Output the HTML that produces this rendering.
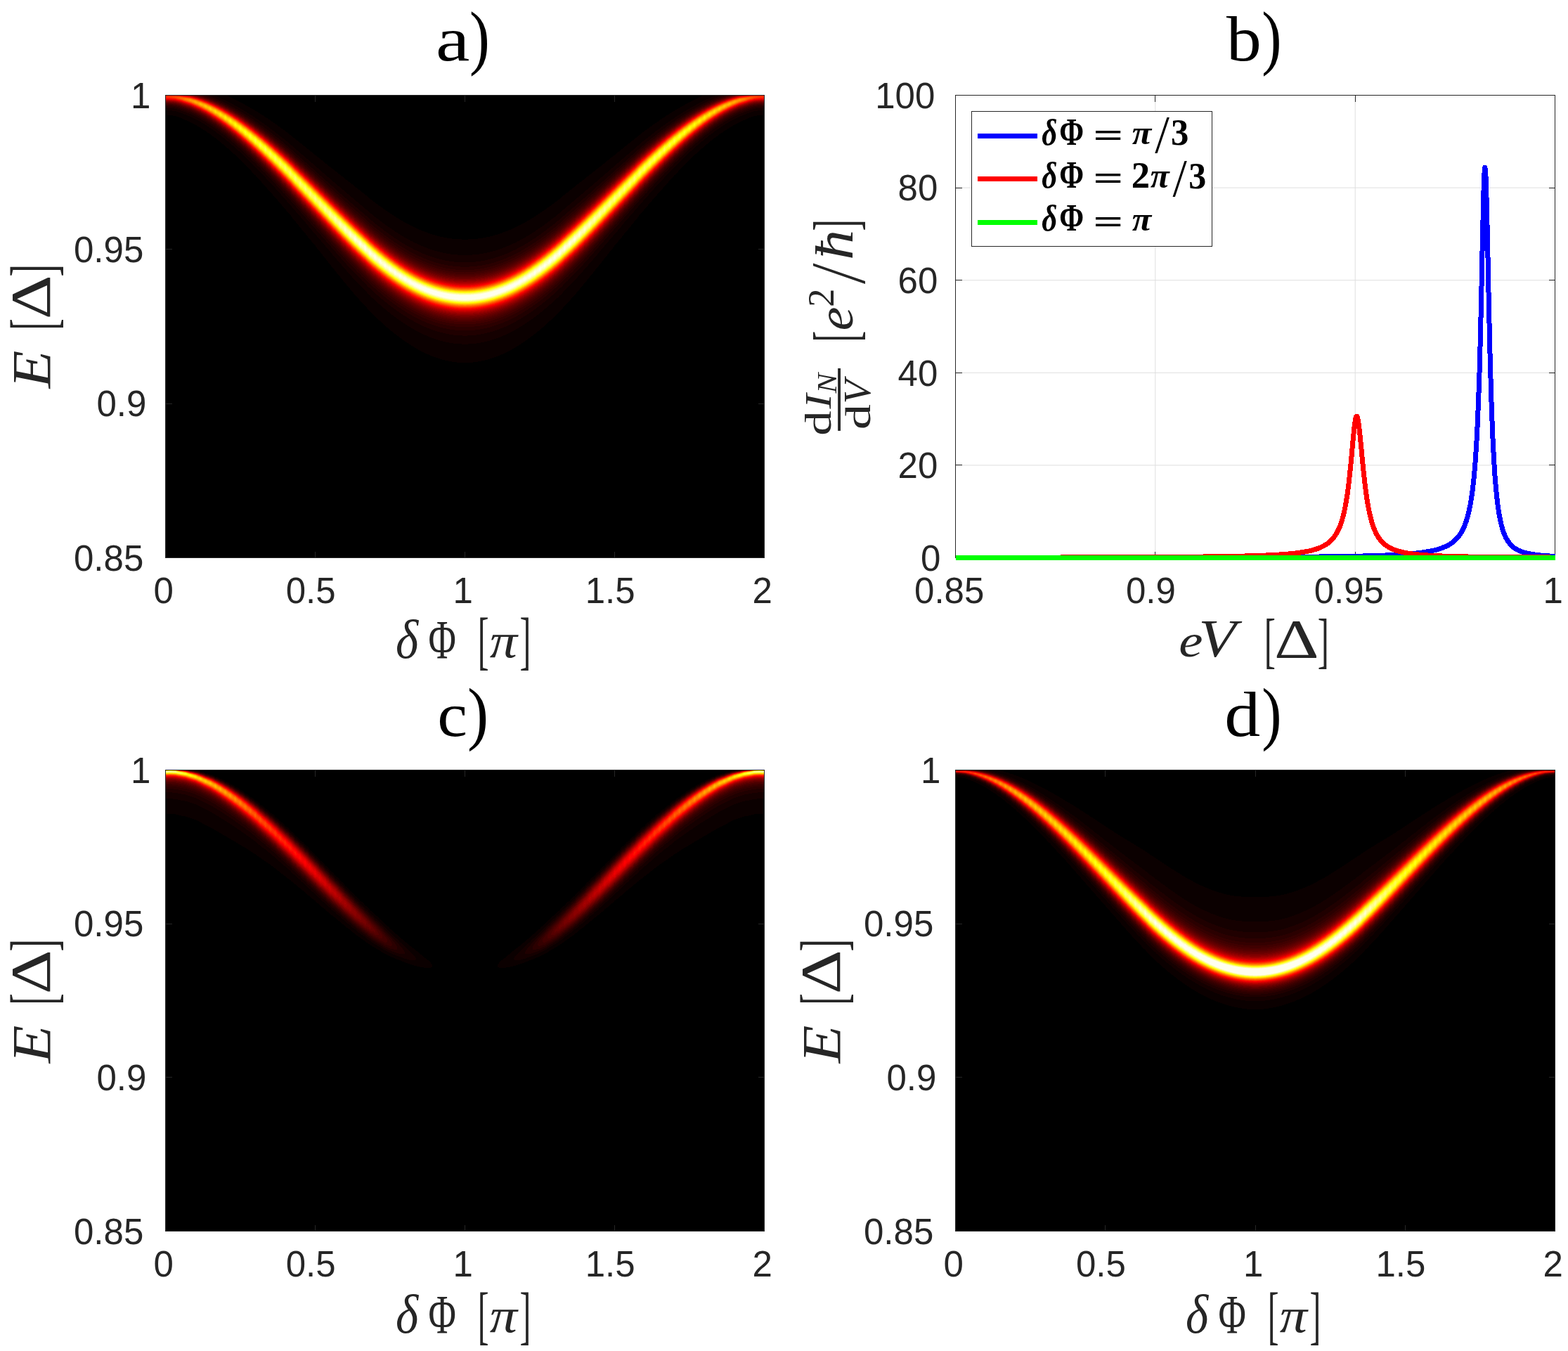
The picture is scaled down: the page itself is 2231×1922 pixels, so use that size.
<!DOCTYPE html>
<html><head><meta charset="utf-8"><title>Figure</title>
<style>html,body{margin:0;padding:0;background:#fff;overflow:hidden}
#wrap{position:relative;width:2231px;height:1922px;background:#fff}
svg{position:absolute;left:0;top:0}
text{white-space:pre}</style></head>
<body><div id="wrap">
<canvas id="cv_a" width="853" height="659" style="position:absolute;left:235px;top:135px;width:853px;height:659px"></canvas>
<canvas id="cv_c" width="853" height="657" style="position:absolute;left:235px;top:1095px;width:853px;height:657px"></canvas>
<canvas id="cv_d" width="854" height="657" style="position:absolute;left:1359px;top:1095px;width:854px;height:657px"></canvas>
<svg width="2231" height="1922" viewBox="0 0 2231 1922" xmlns="http://www.w3.org/2000/svg">
<g><line x1="1643.8" y1="135.5" x2="1643.8" y2="793.5" stroke="#dfdfdf" stroke-width="1"/><line x1="1928.2" y1="135.5" x2="1928.2" y2="793.5" stroke="#dfdfdf" stroke-width="1"/><line x1="1359.5" y1="661.9" x2="2212.5" y2="661.9" stroke="#dfdfdf" stroke-width="1"/><line x1="1359.5" y1="530.3" x2="2212.5" y2="530.3" stroke="#dfdfdf" stroke-width="1"/><line x1="1359.5" y1="398.7" x2="2212.5" y2="398.7" stroke="#dfdfdf" stroke-width="1"/><line x1="1359.5" y1="267.1" x2="2212.5" y2="267.1" stroke="#dfdfdf" stroke-width="1"/></g>
<g stroke="#262626" stroke-width="1" shape-rendering="crispEdges"><line x1="1359.5" y1="793.5" x2="1359.5" y2="784.5"/><line x1="1359.5" y1="135.5" x2="1359.5" y2="144.5"/><line x1="1643.8" y1="793.5" x2="1643.8" y2="784.5"/><line x1="1643.8" y1="135.5" x2="1643.8" y2="144.5"/><line x1="1928.2" y1="793.5" x2="1928.2" y2="784.5"/><line x1="1928.2" y1="135.5" x2="1928.2" y2="144.5"/><line x1="2212.5" y1="793.5" x2="2212.5" y2="784.5"/><line x1="2212.5" y1="135.5" x2="2212.5" y2="144.5"/><line x1="1359.5" y1="793.5" x2="1368.5" y2="793.5"/><line x1="2212.5" y1="793.5" x2="2203.5" y2="793.5"/><line x1="1359.5" y1="661.9" x2="1368.5" y2="661.9"/><line x1="2212.5" y1="661.9" x2="2203.5" y2="661.9"/><line x1="1359.5" y1="530.3" x2="1368.5" y2="530.3"/><line x1="2212.5" y1="530.3" x2="2203.5" y2="530.3"/><line x1="1359.5" y1="398.7" x2="1368.5" y2="398.7"/><line x1="2212.5" y1="398.7" x2="2203.5" y2="398.7"/><line x1="1359.5" y1="267.1" x2="1368.5" y2="267.1"/><line x1="2212.5" y1="267.1" x2="2203.5" y2="267.1"/><line x1="1359.5" y1="135.5" x2="1368.5" y2="135.5"/><line x1="2212.5" y1="135.5" x2="2203.5" y2="135.5"/><rect x="1359.5" y="135.5" width="853.0" height="658.0" fill="none"/></g>
<g><polyline points="1359.5,793.3 1360.1,793.3 1360.6,793.3 1361.2,793.3 1361.8,793.3 1362.3,793.3 1362.9,793.3 1363.5,793.3 1364.1,793.3 1364.6,793.3 1365.2,793.3 1365.8,793.3 1366.3,793.3 1366.9,793.3 1367.5,793.3 1368.0,793.3 1368.6,793.3 1369.2,793.3 1369.7,793.3 1370.3,793.3 1370.9,793.3 1371.4,793.3 1372.0,793.3 1372.6,793.3 1373.2,793.3 1373.7,793.3 1374.3,793.3 1374.9,793.3 1375.4,793.3 1376.0,793.3 1376.6,793.3 1377.1,793.3 1377.7,793.3 1378.3,793.3 1378.8,793.3 1379.4,793.3 1380.0,793.3 1380.6,793.3 1381.1,793.3 1381.7,793.3 1382.3,793.3 1382.8,793.3 1383.4,793.3 1384.0,793.3 1384.5,793.3 1385.1,793.3 1385.7,793.3 1386.2,793.3 1386.8,793.3 1387.4,793.3 1388.0,793.3 1388.5,793.3 1389.1,793.3 1389.7,793.3 1390.2,793.3 1390.8,793.3 1391.4,793.3 1391.9,793.3 1392.5,793.3 1393.1,793.3 1393.6,793.3 1394.2,793.3 1394.8,793.2 1395.3,793.2 1395.9,793.2 1396.5,793.2 1397.1,793.2 1397.6,793.2 1398.2,793.2 1398.8,793.2 1399.3,793.2 1399.9,793.2 1400.5,793.2 1401.0,793.2 1401.6,793.2 1402.2,793.2 1402.7,793.2 1403.3,793.2 1403.9,793.2 1404.5,793.2 1405.0,793.2 1405.6,793.2 1406.2,793.2 1406.7,793.2 1407.3,793.2 1407.9,793.2 1408.4,793.2 1409.0,793.2 1409.6,793.2 1410.1,793.2 1410.7,793.2 1411.3,793.2 1411.9,793.2 1412.4,793.2 1413.0,793.2 1413.6,793.2 1414.1,793.2 1414.7,793.2 1415.3,793.2 1415.8,793.2 1416.4,793.2 1417.0,793.2 1417.5,793.2 1418.1,793.2 1418.7,793.2 1419.2,793.2 1419.8,793.2 1420.4,793.2 1421.0,793.2 1421.5,793.2 1422.1,793.2 1422.7,793.2 1423.2,793.2 1423.8,793.2 1424.4,793.2 1424.9,793.2 1425.5,793.2 1426.1,793.2 1426.6,793.2 1427.2,793.2 1427.8,793.2 1428.4,793.2 1428.9,793.2 1429.5,793.2 1430.1,793.2 1430.6,793.2 1431.2,793.2 1431.8,793.2 1432.3,793.2 1432.9,793.2 1433.5,793.2 1434.0,793.2 1434.6,793.2 1435.2,793.2 1435.8,793.2 1436.3,793.2 1436.9,793.2 1437.5,793.2 1438.0,793.2 1438.6,793.2 1439.2,793.2 1439.7,793.2 1440.3,793.2 1440.9,793.2 1441.4,793.2 1442.0,793.2 1442.6,793.2 1443.1,793.2 1443.7,793.2 1444.3,793.2 1444.9,793.2 1445.4,793.2 1446.0,793.2 1446.6,793.2 1447.1,793.2 1447.7,793.2 1448.3,793.2 1448.8,793.2 1449.4,793.2 1450.0,793.2 1450.5,793.2 1451.1,793.2 1451.7,793.2 1452.3,793.2 1452.8,793.2 1453.4,793.2 1454.0,793.2 1454.5,793.2 1455.1,793.2 1455.7,793.2 1456.2,793.2 1456.8,793.2 1457.4,793.2 1457.9,793.2 1458.5,793.2 1459.1,793.2 1459.7,793.2 1460.2,793.2 1460.8,793.2 1461.4,793.2 1461.9,793.2 1462.5,793.2 1463.1,793.2 1463.6,793.2 1464.2,793.2 1464.8,793.2 1465.3,793.2 1465.9,793.2 1466.5,793.2 1467.0,793.2 1467.6,793.2 1468.2,793.2 1468.8,793.2 1469.3,793.2 1469.9,793.2 1470.5,793.2 1471.0,793.2 1471.6,793.2 1472.2,793.2 1472.7,793.2 1473.3,793.2 1473.9,793.2 1474.4,793.2 1475.0,793.2 1475.6,793.2 1476.2,793.2 1476.7,793.2 1477.3,793.2 1477.9,793.2 1478.4,793.2 1479.0,793.2 1479.6,793.2 1480.1,793.2 1480.7,793.2 1481.3,793.2 1481.8,793.2 1482.4,793.2 1483.0,793.2 1483.6,793.2 1484.1,793.2 1484.7,793.2 1485.3,793.2 1485.8,793.2 1486.4,793.2 1487.0,793.2 1487.5,793.2 1488.1,793.2 1488.7,793.2 1489.2,793.2 1489.8,793.2 1490.4,793.2 1490.9,793.2 1491.5,793.2 1492.1,793.2 1492.7,793.2 1493.2,793.2 1493.8,793.2 1494.4,793.2 1494.9,793.2 1495.5,793.2 1496.1,793.2 1496.6,793.2 1497.2,793.2 1497.8,793.2 1498.3,793.2 1498.9,793.2 1499.5,793.2 1500.1,793.2 1500.6,793.2 1501.2,793.2 1501.8,793.2 1502.3,793.2 1502.9,793.2 1503.5,793.2 1504.0,793.2 1504.6,793.2 1505.2,793.2 1505.7,793.2 1506.3,793.2 1506.9,793.2 1507.5,793.2 1508.0,793.2 1508.6,793.2 1509.2,793.2 1509.7,793.2 1510.3,793.2 1510.9,793.2 1511.4,793.2 1512.0,793.2 1512.6,793.2 1513.1,793.2 1513.7,793.2 1514.3,793.2 1514.8,793.2 1515.4,793.2 1516.0,793.2 1516.6,793.2 1517.1,793.2 1517.7,793.2 1518.3,793.2 1518.8,793.2 1519.4,793.2 1520.0,793.2 1520.5,793.2 1521.1,793.2 1521.7,793.2 1522.2,793.2 1522.8,793.2 1523.4,793.2 1524.0,793.2 1524.5,793.2 1525.1,793.2 1525.7,793.2 1526.2,793.2 1526.8,793.2 1527.4,793.2 1527.9,793.2 1528.5,793.1 1529.1,793.1 1529.6,793.1 1530.2,793.1 1530.8,793.1 1531.4,793.1 1531.9,793.1 1532.5,793.1 1533.1,793.1 1533.6,793.1 1534.2,793.1 1534.8,793.1 1535.3,793.1 1535.9,793.1 1536.5,793.1 1537.0,793.1 1537.6,793.1 1538.2,793.1 1538.7,793.1 1539.3,793.1 1539.9,793.1 1540.5,793.1 1541.0,793.1 1541.6,793.1 1542.2,793.1 1542.7,793.1 1543.3,793.1 1543.9,793.1 1544.4,793.1 1545.0,793.1 1545.6,793.1 1546.1,793.1 1546.7,793.1 1547.3,793.1 1547.9,793.1 1548.4,793.1 1549.0,793.1 1549.6,793.1 1550.1,793.1 1550.7,793.1 1551.3,793.1 1551.8,793.1 1552.4,793.1 1553.0,793.1 1553.5,793.1 1554.1,793.1 1554.7,793.1 1555.3,793.1 1555.8,793.1 1556.4,793.1 1557.0,793.1 1557.5,793.1 1558.1,793.1 1558.7,793.1 1559.2,793.1 1559.8,793.1 1560.4,793.1 1560.9,793.1 1561.5,793.1 1562.1,793.1 1562.6,793.1 1563.2,793.1 1563.8,793.1 1564.4,793.1 1564.9,793.1 1565.5,793.1 1566.1,793.1 1566.6,793.1 1567.2,793.1 1567.8,793.1 1568.3,793.1 1568.9,793.1 1569.5,793.1 1570.0,793.1 1570.6,793.1 1571.2,793.1 1571.8,793.1 1572.3,793.1 1572.9,793.1 1573.5,793.1 1574.0,793.1 1574.6,793.1 1575.2,793.1 1575.7,793.1 1576.3,793.1 1576.9,793.1 1577.4,793.1 1578.0,793.1 1578.6,793.1 1579.2,793.1 1579.7,793.1 1580.3,793.1 1580.9,793.1 1581.4,793.1 1582.0,793.1 1582.6,793.1 1583.1,793.1 1583.7,793.1 1584.3,793.1 1584.8,793.1 1585.4,793.1 1586.0,793.1 1586.5,793.1 1587.1,793.1 1587.7,793.1 1588.3,793.1 1588.8,793.1 1589.4,793.1 1590.0,793.1 1590.5,793.1 1591.1,793.1 1591.7,793.1 1592.2,793.1 1592.8,793.1 1593.4,793.1 1593.9,793.1 1594.5,793.1 1595.1,793.1 1595.7,793.1 1596.2,793.1 1596.8,793.1 1597.4,793.1 1597.9,793.1 1598.5,793.1 1599.1,793.1 1599.6,793.1 1600.2,793.1 1600.8,793.1 1601.3,793.1 1601.9,793.1 1602.5,793.1 1603.1,793.1 1603.6,793.1 1604.2,793.1 1604.8,793.1 1605.3,793.1 1605.9,793.1 1606.5,793.1 1607.0,793.1 1607.6,793.1 1608.2,793.1 1608.7,793.1 1609.3,793.1 1609.9,793.1 1610.4,793.1 1611.0,793.1 1611.6,793.0 1612.2,793.0 1612.7,793.0 1613.3,793.0 1613.9,793.0 1614.4,793.0 1615.0,793.0 1615.6,793.0 1616.1,793.0 1616.7,793.0 1617.3,793.0 1617.8,793.0 1618.4,793.0 1619.0,793.0 1619.6,793.0 1620.1,793.0 1620.7,793.0 1621.3,793.0 1621.8,793.0 1622.4,793.0 1623.0,793.0 1623.5,793.0 1624.1,793.0 1624.7,793.0 1625.2,793.0 1625.8,793.0 1626.4,793.0 1627.0,793.0 1627.5,793.0 1628.1,793.0 1628.7,793.0 1629.2,793.0 1629.8,793.0 1630.4,793.0 1630.9,793.0 1631.5,793.0 1632.1,793.0 1632.6,793.0 1633.2,793.0 1633.8,793.0 1634.3,793.0 1634.9,793.0 1635.5,793.0 1636.1,793.0 1636.6,793.0 1637.2,793.0 1637.8,793.0 1638.3,793.0 1638.9,793.0 1639.5,793.0 1640.0,793.0 1640.6,793.0 1641.2,793.0 1641.7,793.0 1642.3,793.0 1642.9,793.0 1643.5,793.0 1644.0,793.0 1644.6,793.0 1645.2,793.0 1645.7,793.0 1646.3,793.0 1646.9,793.0 1647.4,793.0 1648.0,793.0 1648.6,793.0 1649.1,793.0 1649.7,793.0 1650.3,793.0 1650.9,793.0 1651.4,793.0 1652.0,793.0 1652.6,793.0 1653.1,793.0 1653.7,793.0 1654.3,793.0 1654.8,793.0 1655.4,793.0 1656.0,793.0 1656.5,793.0 1657.1,793.0 1657.7,793.0 1658.2,793.0 1658.8,793.0 1659.4,793.0 1660.0,793.0 1660.5,793.0 1661.1,793.0 1661.7,793.0 1662.2,793.0 1662.8,793.0 1663.4,793.0 1663.9,793.0 1664.5,793.0 1665.1,793.0 1665.6,793.0 1666.2,793.0 1666.8,793.0 1667.4,793.0 1667.9,793.0 1668.5,793.0 1669.1,793.0 1669.6,792.9 1670.2,792.9 1670.8,792.9 1671.3,792.9 1671.9,792.9 1672.5,792.9 1673.0,792.9 1673.6,792.9 1674.2,792.9 1674.8,792.9 1675.3,792.9 1675.9,792.9 1676.5,792.9 1677.0,792.9 1677.6,792.9 1678.2,792.9 1678.7,792.9 1679.3,792.9 1679.9,792.9 1680.4,792.9 1681.0,792.9 1681.6,792.9 1682.1,792.9 1682.7,792.9 1683.3,792.9 1683.9,792.9 1684.4,792.9 1685.0,792.9 1685.6,792.9 1686.1,792.9 1686.7,792.9 1687.3,792.9 1687.8,792.9 1688.4,792.9 1689.0,792.9 1689.5,792.9 1690.1,792.9 1690.7,792.9 1691.3,792.9 1691.8,792.9 1692.4,792.9 1693.0,792.9 1693.5,792.9 1694.1,792.9 1694.7,792.9 1695.2,792.9 1695.8,792.9 1696.4,792.9 1696.9,792.9 1697.5,792.9 1698.1,792.9 1698.7,792.9 1699.2,792.9 1699.8,792.9 1700.4,792.9 1700.9,792.9 1701.5,792.9 1702.1,792.9 1702.6,792.9 1703.2,792.9 1703.8,792.9 1704.3,792.9 1704.9,792.9 1705.5,792.9 1706.0,792.9 1706.6,792.9 1707.2,792.9 1707.8,792.9 1708.3,792.9 1708.9,792.9 1709.5,792.9 1710.0,792.9 1710.6,792.9 1711.2,792.9 1711.7,792.9 1712.3,792.9 1712.9,792.8 1713.4,792.8 1714.0,792.8 1714.6,792.8 1715.2,792.8 1715.7,792.8 1716.3,792.8 1716.9,792.8 1717.4,792.8 1718.0,792.8 1718.6,792.8 1719.1,792.8 1719.7,792.8 1720.3,792.8 1720.8,792.8 1721.4,792.8 1722.0,792.8 1722.6,792.8 1723.1,792.8 1723.7,792.8 1724.3,792.8 1724.8,792.8 1725.4,792.8 1726.0,792.8 1726.5,792.8 1727.1,792.8 1727.7,792.8 1728.2,792.8 1728.8,792.8 1729.4,792.8 1729.9,792.8 1730.5,792.8 1731.1,792.8 1731.7,792.8 1732.2,792.8 1732.8,792.8 1733.4,792.8 1733.9,792.8 1734.5,792.8 1735.1,792.8 1735.6,792.8 1736.2,792.8 1736.8,792.8 1737.3,792.8 1737.9,792.8 1738.5,792.8 1739.1,792.8 1739.6,792.8 1740.2,792.8 1740.8,792.8 1741.3,792.8 1741.9,792.8 1742.5,792.8 1743.0,792.8 1743.6,792.8 1744.2,792.8 1744.7,792.8 1745.3,792.8 1745.9,792.8 1746.5,792.7 1747.0,792.7 1747.6,792.7 1748.2,792.7 1748.7,792.7 1749.3,792.7 1749.9,792.7 1750.4,792.7 1751.0,792.7 1751.6,792.7 1752.1,792.7 1752.7,792.7 1753.3,792.7 1753.8,792.7 1754.4,792.7 1755.0,792.7 1755.6,792.7 1756.1,792.7 1756.7,792.7 1757.3,792.7 1757.8,792.7 1758.4,792.7 1759.0,792.7 1759.5,792.7 1760.1,792.7 1760.7,792.7 1761.2,792.7 1761.8,792.7 1762.4,792.7 1763.0,792.7 1763.5,792.7 1764.1,792.7 1764.7,792.7 1765.2,792.7 1765.8,792.7 1766.4,792.7 1766.9,792.7 1767.5,792.7 1768.1,792.7 1768.6,792.7 1769.2,792.7 1769.8,792.7 1770.4,792.7 1770.9,792.7 1771.5,792.7 1772.1,792.7 1772.6,792.7 1773.2,792.6 1773.8,792.6 1774.3,792.6 1774.9,792.6 1775.5,792.6 1776.0,792.6 1776.6,792.6 1777.2,792.6 1777.7,792.6 1778.3,792.6 1778.9,792.6 1779.5,792.6 1780.0,792.6 1780.6,792.6 1781.2,792.6 1781.7,792.6 1782.3,792.6 1782.9,792.6 1783.4,792.6 1784.0,792.6 1784.6,792.6 1785.1,792.6 1785.7,792.6 1786.3,792.6 1786.9,792.6 1787.4,792.6 1788.0,792.6 1788.6,792.6 1789.1,792.6 1789.7,792.6 1790.3,792.6 1790.8,792.6 1791.4,792.6 1792.0,792.6 1792.5,792.6 1793.1,792.6 1793.7,792.6 1794.3,792.6 1794.8,792.6 1795.4,792.6 1796.0,792.5 1796.5,792.5 1797.1,792.5 1797.7,792.5 1798.2,792.5 1798.8,792.5 1799.4,792.5 1799.9,792.5 1800.5,792.5 1801.1,792.5 1801.6,792.5 1802.2,792.5 1802.8,792.5 1803.4,792.5 1803.9,792.5 1804.5,792.5 1805.1,792.5 1805.6,792.5 1806.2,792.5 1806.8,792.5 1807.3,792.5 1807.9,792.5 1808.5,792.5 1809.0,792.5 1809.6,792.5 1810.2,792.5 1810.8,792.5 1811.3,792.5 1811.9,792.5 1812.5,792.5 1813.0,792.5 1813.6,792.5 1814.2,792.5 1814.7,792.4 1815.3,792.4 1815.9,792.4 1816.4,792.4 1817.0,792.4 1817.6,792.4 1818.2,792.4 1818.7,792.4 1819.3,792.4 1819.9,792.4 1820.4,792.4 1821.0,792.4 1821.6,792.4 1822.1,792.4 1822.7,792.4 1823.3,792.4 1823.8,792.4 1824.4,792.4 1825.0,792.4 1825.5,792.4 1826.1,792.4 1826.7,792.4 1827.3,792.4 1827.8,792.4 1828.4,792.4 1829.0,792.4 1829.5,792.4 1830.1,792.4 1830.7,792.3 1831.2,792.3 1831.8,792.3 1832.4,792.3 1832.9,792.3 1833.5,792.3 1834.1,792.3 1834.7,792.3 1835.2,792.3 1835.8,792.3 1836.4,792.3 1836.9,792.3 1837.5,792.3 1838.1,792.3 1838.6,792.3 1839.2,792.3 1839.8,792.3 1840.3,792.3 1840.9,792.3 1841.5,792.3 1842.1,792.3 1842.6,792.3 1843.2,792.3 1843.8,792.3 1844.3,792.3 1844.9,792.2 1845.5,792.2 1846.0,792.2 1846.6,792.2 1847.2,792.2 1847.7,792.2 1848.3,792.2 1848.9,792.2 1849.4,792.2 1850.0,792.2 1850.6,792.2 1851.2,792.2 1851.7,792.2 1852.3,792.2 1852.9,792.2 1853.4,792.2 1854.0,792.2 1854.6,792.2 1855.1,792.2 1855.7,792.2 1856.3,792.2 1856.8,792.2 1857.4,792.1 1858.0,792.1 1858.6,792.1 1859.1,792.1 1859.7,792.1 1860.3,792.1 1860.8,792.1 1861.4,792.1 1862.0,792.1 1862.5,792.1 1863.1,792.1 1863.7,792.1 1864.2,792.1 1864.8,792.1 1865.4,792.1 1866.0,792.1 1866.5,792.1 1867.1,792.1 1867.7,792.1 1868.2,792.0 1868.8,792.0 1869.4,792.0 1869.9,792.0 1870.5,792.0 1871.1,792.0 1871.6,792.0 1872.2,792.0 1872.8,792.0 1873.3,792.0 1873.9,792.0 1874.5,792.0 1875.1,792.0 1875.6,792.0 1876.2,792.0 1876.8,792.0 1877.3,792.0 1877.9,791.9 1878.5,791.9 1879.0,791.9 1879.6,791.9 1880.2,791.9 1880.7,791.9 1881.3,791.9 1881.9,791.9 1882.5,791.9 1883.0,791.9 1883.6,791.9 1884.2,791.9 1884.7,791.9 1885.3,791.9 1885.9,791.9 1886.4,791.9 1887.0,791.8 1887.6,791.8 1888.1,791.8 1888.7,791.8 1889.3,791.8 1889.9,791.8 1890.4,791.8 1891.0,791.8 1891.6,791.8 1892.1,791.8 1892.7,791.8 1893.3,791.8 1893.8,791.8 1894.4,791.8 1895.0,791.7 1895.5,791.7 1896.1,791.7 1896.7,791.7 1897.2,791.7 1897.8,791.7 1898.4,791.7 1899.0,791.7 1899.5,791.7 1900.1,791.7 1900.7,791.7 1901.2,791.7 1901.8,791.7 1902.4,791.6 1902.9,791.6 1903.5,791.6 1904.1,791.6 1904.6,791.6 1905.2,791.6 1905.8,791.6 1906.4,791.6 1906.9,791.6 1907.5,791.6 1908.1,791.6 1908.6,791.5 1909.2,791.5 1909.8,791.5 1910.3,791.5 1910.9,791.5 1911.5,791.5 1912.0,791.5 1912.6,791.5 1913.2,791.5 1913.8,791.5 1914.3,791.5 1914.9,791.4 1915.5,791.4 1916.0,791.4 1916.6,791.4 1917.2,791.4 1917.7,791.4 1918.3,791.4 1918.9,791.4 1919.4,791.4 1920.0,791.4 1920.6,791.3 1921.1,791.3 1921.7,791.3 1922.3,791.3 1922.9,791.3 1923.4,791.3 1924.0,791.3 1924.6,791.3 1925.1,791.3 1925.7,791.2 1926.3,791.2 1926.8,791.2 1927.4,791.2 1928.0,791.2 1928.5,791.2 1929.1,791.2 1929.7,791.2 1930.3,791.2 1930.8,791.1 1931.4,791.1 1932.0,791.1 1932.5,791.1 1933.1,791.1 1933.7,791.1 1934.2,791.1 1934.8,791.1 1935.4,791.0 1935.9,791.0 1936.5,791.0 1937.1,791.0 1937.7,791.0 1938.2,791.0 1938.8,791.0 1939.4,791.0 1939.9,790.9 1940.5,790.9 1941.1,790.9 1941.6,790.9 1942.2,790.9 1942.8,790.9 1943.3,790.9 1943.9,790.8 1944.5,790.8 1945.0,790.8 1945.6,790.8 1946.2,790.8 1946.8,790.8 1947.3,790.7 1947.9,790.7 1948.5,790.7 1949.0,790.7 1949.6,790.7 1950.2,790.7 1950.7,790.7 1951.3,790.6 1951.9,790.6 1952.4,790.6 1953.0,790.6 1953.6,790.6 1954.2,790.6 1954.7,790.5 1955.3,790.5 1955.9,790.5 1956.4,790.5 1957.0,790.5 1957.6,790.4 1958.1,790.4 1958.7,790.4 1959.3,790.4 1959.8,790.4 1960.4,790.4 1961.0,790.3 1961.6,790.3 1962.1,790.3 1962.7,790.3 1963.3,790.3 1963.8,790.2 1964.4,790.2 1965.0,790.2 1965.5,790.2 1966.1,790.2 1966.7,790.1 1967.2,790.1 1967.8,790.1 1968.4,790.1 1968.9,790.0 1969.5,790.0 1970.1,790.0 1970.7,790.0 1971.2,790.0 1971.8,789.9 1972.4,789.9 1972.9,789.9 1973.5,789.9 1974.1,789.8 1974.6,789.8 1975.2,789.8 1975.8,789.8 1976.3,789.7 1976.9,789.7 1977.5,789.7 1978.1,789.7 1978.6,789.6 1979.2,789.6 1979.8,789.6 1980.3,789.5 1980.9,789.5 1981.5,789.5 1982.0,789.5 1982.6,789.4 1983.2,789.4 1983.7,789.4 1984.3,789.3 1984.9,789.3 1985.5,789.3 1986.0,789.3 1986.6,789.2 1987.2,789.2 1987.7,789.2 1988.3,789.1 1988.9,789.1 1989.4,789.1 1990.0,789.0 1990.6,789.0 1991.1,789.0 1991.7,788.9 1992.3,788.9 1992.8,788.9 1993.4,788.8 1994.0,788.8 1994.6,788.7 1995.1,788.7 1995.7,788.7 1996.3,788.6 1996.8,788.6 1997.4,788.6 1998.0,788.5 1998.5,788.5 1999.1,788.4 1999.7,788.4 2000.2,788.3 2000.8,788.3 2001.4,788.3 2002.0,788.2 2002.5,788.2 2003.1,788.1 2003.7,788.1 2004.2,788.0 2004.8,788.0 2005.4,787.9 2005.9,787.9 2006.5,787.8 2007.1,787.8 2007.6,787.7 2008.2,787.7 2008.8,787.6 2009.4,787.6 2009.9,787.5 2010.5,787.5 2011.1,787.4 2011.6,787.4 2012.2,787.3 2012.8,787.3 2013.3,787.2 2013.9,787.1 2014.5,787.1 2015.0,787.0 2015.6,787.0 2016.2,786.9 2016.7,786.8 2017.3,786.8 2017.9,786.7 2018.5,786.6 2019.0,786.6 2019.6,786.5 2020.2,786.4 2020.7,786.4 2021.3,786.3 2021.9,786.2 2022.4,786.1 2023.0,786.1 2023.6,786.0 2024.1,785.9 2024.7,785.8 2025.3,785.7 2025.9,785.7 2026.4,785.6 2027.0,785.5 2027.6,785.4 2028.1,785.3 2028.7,785.2 2029.3,785.1 2029.8,785.0 2030.4,784.9 2031.0,784.8 2031.5,784.7 2032.1,784.6 2032.7,784.5 2033.3,784.4 2033.8,784.3 2034.4,784.2 2035.0,784.1 2035.5,784.0 2036.1,783.9 2036.7,783.8 2037.2,783.6 2037.8,783.5 2038.4,783.4 2038.9,783.3 2039.5,783.1 2040.1,783.0 2040.6,782.9 2041.2,782.7 2041.8,782.6 2042.4,782.5 2042.9,782.3 2043.5,782.2 2044.1,782.0 2044.6,781.9 2045.2,781.7 2045.8,781.5 2046.3,781.4 2046.9,781.2 2047.5,781.0 2048.0,780.8 2048.6,780.7 2049.2,780.5 2049.8,780.3 2050.3,780.1 2050.9,779.9 2051.5,779.7 2052.0,779.5 2052.6,779.3 2053.2,779.0 2053.7,778.8 2054.3,778.6 2054.9,778.4 2055.4,778.1 2056.0,777.9 2056.6,777.6 2057.2,777.3 2057.7,777.1 2058.3,776.8 2058.9,776.5 2059.4,776.2 2060.0,775.9 2060.6,775.6 2061.1,775.3 2061.7,775.0 2062.3,774.6 2062.8,774.3 2063.4,773.9 2064.0,773.6 2064.5,773.2 2065.1,772.8 2065.7,772.4 2066.3,772.0 2066.8,771.5 2067.4,771.1 2068.0,770.6 2068.5,770.2 2069.1,769.7 2069.7,769.2 2070.2,768.6 2070.8,768.1 2071.4,767.6 2071.9,767.0 2072.5,766.4 2073.1,765.8 2073.7,765.1 2074.2,764.4 2074.8,763.7 2075.4,763.0 2075.9,762.3 2076.5,761.5 2077.1,760.7 2077.6,759.8 2078.2,759.0 2078.8,758.0 2079.3,757.1 2079.9,756.1 2080.5,755.1 2081.1,754.0 2081.6,752.8 2082.2,751.6 2082.8,750.4 2083.3,749.1 2083.9,747.7 2084.5,746.3 2085.0,744.8 2085.6,743.2 2086.2,741.5 2086.7,739.8 2087.3,737.9 2087.9,735.9 2088.4,733.9 2089.0,731.7 2089.6,729.4 2090.2,726.9 2090.7,724.3 2091.3,721.5 2091.9,718.6 2092.4,715.4 2093.0,712.1 2093.6,708.5 2094.1,704.7 2094.7,700.6 2095.3,696.2 2095.8,691.5 2096.4,686.4 2097.0,681.0 2097.6,675.1 2098.1,668.7 2098.7,661.8 2099.3,654.3 2099.8,646.2 2100.4,637.4 2101.0,627.7 2101.5,617.2 2102.1,605.8 2102.7,593.2 2103.2,579.5 2103.8,564.6 2104.4,548.2 2105.0,530.3 2105.5,510.9 2106.1,489.8 2106.7,467.0 2107.2,442.7 2107.8,416.9 2108.4,390.0 2108.9,362.5 2109.5,335.2 2110.1,308.9 2110.6,285.0 2111.2,264.8 2111.8,249.6 2112.3,240.5 2112.9,238.2 2113.5,242.4 2114.1,252.3 2114.6,267.3 2115.2,286.8 2115.8,309.6 2116.3,334.8 2116.9,361.5 2117.5,388.6 2118.0,415.7 2118.6,442.0 2119.2,467.3 2119.7,491.3 2120.3,513.8 2120.9,534.7 2121.5,554.0 2122.0,571.9 2122.6,588.3 2123.2,603.3 2123.7,617.1 2124.3,629.6 2124.9,641.1 2125.4,651.6 2126.0,661.2 2126.6,670.0 2127.1,678.1 2127.7,685.4 2128.3,692.2 2128.9,698.4 2129.4,704.1 2130.0,709.4 2130.6,714.3 2131.1,718.7 2131.7,722.9 2132.3,726.7 2132.8,730.3 2133.4,733.6 2134.0,736.7 2134.5,739.5 2135.1,742.2 2135.7,744.6 2136.2,747.0 2136.8,749.1 2137.4,751.2 2138.0,753.0 2138.5,754.8 2139.1,756.5 2139.7,758.1 2140.2,759.6 2140.8,761.0 2141.4,762.3 2141.9,763.5 2142.5,764.7 2143.1,765.8 2143.6,766.8 2144.2,767.8 2144.8,768.8 2145.4,769.7 2145.9,770.5 2146.5,771.3 2147.1,772.1 2147.6,772.8 2148.2,773.5 2148.8,774.2 2149.3,774.8 2149.9,775.4 2150.5,776.0 2151.0,776.5 2151.6,777.1 2152.2,777.6 2152.8,778.0 2153.3,778.5 2153.9,778.9 2154.5,779.4 2155.0,779.8 2155.6,780.1 2156.2,780.5 2156.7,780.9 2157.3,781.2 2157.9,781.6 2158.4,781.9 2159.0,782.2 2159.6,782.5 2160.1,782.8 2160.7,783.0 2161.3,783.3 2161.9,783.5 2162.4,783.8 2163.0,784.0 2163.6,784.3 2164.1,784.5 2164.7,784.7 2165.3,784.9 2165.8,785.1 2166.4,785.3 2167.0,785.5 2167.5,785.7 2168.1,785.8 2168.7,786.0 2169.3,786.2 2169.8,786.3 2170.4,786.5 2171.0,786.6 2171.5,786.8 2172.1,786.9 2172.7,787.0 2173.2,787.2 2173.8,787.3 2174.4,787.4 2174.9,787.5 2175.5,787.7 2176.1,787.8 2176.7,787.9 2177.2,788.0 2177.8,788.1 2178.4,788.2 2178.9,788.3 2179.5,788.4 2180.1,788.5 2180.6,788.6 2181.2,788.7 2181.8,788.8 2182.3,788.8 2182.9,788.9 2183.5,789.0 2184.0,789.1 2184.6,789.2 2185.2,789.2 2185.8,789.3 2186.3,789.4 2186.9,789.4 2187.5,789.5 2188.0,789.6 2188.6,789.6 2189.2,789.7 2189.7,789.8 2190.3,789.8 2190.9,789.9 2191.4,789.9 2192.0,790.0 2192.6,790.1 2193.2,790.1 2193.7,790.2 2194.3,790.2 2194.9,790.3 2195.4,790.3 2196.0,790.4 2196.6,790.4 2197.1,790.4 2197.7,790.5 2198.3,790.5 2198.8,790.6 2199.4,790.6 2200.0,790.7 2200.6,790.7 2201.1,790.7 2201.7,790.8 2202.3,790.8 2202.8,790.9 2203.4,790.9 2204.0,790.9 2204.5,791.0 2205.1,791.0 2205.7,791.0 2206.2,791.1 2206.8,791.1 2207.4,791.1 2207.9,791.2 2208.5,791.2 2209.1,791.2 2209.7,791.2 2210.2,791.3 2210.8,791.3 2211.4,791.3 2211.9,791.4 2212.5,791.4" fill="none" stroke="#0000ff" stroke-width="7" stroke-linejoin="round" shape-rendering="crispEdges"/><polyline points="1359.5,793.2 1360.1,793.2 1360.6,793.2 1361.2,793.2 1361.8,793.2 1362.3,793.2 1362.9,793.2 1363.5,793.2 1364.1,793.2 1364.6,793.2 1365.2,793.2 1365.8,793.2 1366.3,793.2 1366.9,793.2 1367.5,793.2 1368.0,793.2 1368.6,793.2 1369.2,793.2 1369.7,793.2 1370.3,793.2 1370.9,793.1 1371.4,793.1 1372.0,793.1 1372.6,793.1 1373.2,793.1 1373.7,793.1 1374.3,793.1 1374.9,793.1 1375.4,793.1 1376.0,793.1 1376.6,793.1 1377.1,793.1 1377.7,793.1 1378.3,793.1 1378.8,793.1 1379.4,793.1 1380.0,793.1 1380.6,793.1 1381.1,793.1 1381.7,793.1 1382.3,793.1 1382.8,793.1 1383.4,793.1 1384.0,793.1 1384.5,793.1 1385.1,793.1 1385.7,793.1 1386.2,793.1 1386.8,793.1 1387.4,793.1 1388.0,793.1 1388.5,793.1 1389.1,793.1 1389.7,793.1 1390.2,793.1 1390.8,793.1 1391.4,793.1 1391.9,793.1 1392.5,793.1 1393.1,793.1 1393.6,793.1 1394.2,793.1 1394.8,793.1 1395.3,793.1 1395.9,793.1 1396.5,793.1 1397.1,793.1 1397.6,793.1 1398.2,793.1 1398.8,793.1 1399.3,793.1 1399.9,793.1 1400.5,793.1 1401.0,793.1 1401.6,793.1 1402.2,793.1 1402.7,793.1 1403.3,793.1 1403.9,793.1 1404.5,793.1 1405.0,793.1 1405.6,793.1 1406.2,793.1 1406.7,793.1 1407.3,793.1 1407.9,793.1 1408.4,793.1 1409.0,793.1 1409.6,793.1 1410.1,793.1 1410.7,793.1 1411.3,793.1 1411.9,793.1 1412.4,793.1 1413.0,793.1 1413.6,793.1 1414.1,793.1 1414.7,793.1 1415.3,793.1 1415.8,793.1 1416.4,793.1 1417.0,793.1 1417.5,793.1 1418.1,793.1 1418.7,793.1 1419.2,793.1 1419.8,793.1 1420.4,793.1 1421.0,793.1 1421.5,793.1 1422.1,793.1 1422.7,793.1 1423.2,793.1 1423.8,793.1 1424.4,793.1 1424.9,793.1 1425.5,793.1 1426.1,793.1 1426.6,793.1 1427.2,793.1 1427.8,793.1 1428.4,793.1 1428.9,793.1 1429.5,793.1 1430.1,793.1 1430.6,793.1 1431.2,793.1 1431.8,793.1 1432.3,793.1 1432.9,793.1 1433.5,793.1 1434.0,793.1 1434.6,793.1 1435.2,793.1 1435.8,793.1 1436.3,793.1 1436.9,793.1 1437.5,793.1 1438.0,793.1 1438.6,793.1 1439.2,793.1 1439.7,793.1 1440.3,793.1 1440.9,793.1 1441.4,793.1 1442.0,793.1 1442.6,793.1 1443.1,793.1 1443.7,793.1 1444.3,793.1 1444.9,793.1 1445.4,793.1 1446.0,793.1 1446.6,793.1 1447.1,793.1 1447.7,793.1 1448.3,793.1 1448.8,793.1 1449.4,793.1 1450.0,793.1 1450.5,793.1 1451.1,793.1 1451.7,793.1 1452.3,793.1 1452.8,793.1 1453.4,793.0 1454.0,793.0 1454.5,793.0 1455.1,793.0 1455.7,793.0 1456.2,793.0 1456.8,793.0 1457.4,793.0 1457.9,793.0 1458.5,793.0 1459.1,793.0 1459.7,793.0 1460.2,793.0 1460.8,793.0 1461.4,793.0 1461.9,793.0 1462.5,793.0 1463.1,793.0 1463.6,793.0 1464.2,793.0 1464.8,793.0 1465.3,793.0 1465.9,793.0 1466.5,793.0 1467.0,793.0 1467.6,793.0 1468.2,793.0 1468.8,793.0 1469.3,793.0 1469.9,793.0 1470.5,793.0 1471.0,793.0 1471.6,793.0 1472.2,793.0 1472.7,793.0 1473.3,793.0 1473.9,793.0 1474.4,793.0 1475.0,793.0 1475.6,793.0 1476.2,793.0 1476.7,793.0 1477.3,793.0 1477.9,793.0 1478.4,793.0 1479.0,793.0 1479.6,793.0 1480.1,793.0 1480.7,793.0 1481.3,793.0 1481.8,793.0 1482.4,793.0 1483.0,793.0 1483.6,793.0 1484.1,793.0 1484.7,793.0 1485.3,793.0 1485.8,793.0 1486.4,793.0 1487.0,793.0 1487.5,793.0 1488.1,793.0 1488.7,793.0 1489.2,793.0 1489.8,793.0 1490.4,793.0 1490.9,793.0 1491.5,793.0 1492.1,793.0 1492.7,793.0 1493.2,793.0 1493.8,793.0 1494.4,793.0 1494.9,793.0 1495.5,793.0 1496.1,793.0 1496.6,793.0 1497.2,793.0 1497.8,793.0 1498.3,793.0 1498.9,793.0 1499.5,793.0 1500.1,793.0 1500.6,793.0 1501.2,793.0 1501.8,793.0 1502.3,793.0 1502.9,793.0 1503.5,793.0 1504.0,793.0 1504.6,793.0 1505.2,793.0 1505.7,793.0 1506.3,793.0 1506.9,793.0 1507.5,793.0 1508.0,793.0 1508.6,793.0 1509.2,793.0 1509.7,793.0 1510.3,792.9 1510.9,792.9 1511.4,792.9 1512.0,792.9 1512.6,792.9 1513.1,792.9 1513.7,792.9 1514.3,792.9 1514.8,792.9 1515.4,792.9 1516.0,792.9 1516.6,792.9 1517.1,792.9 1517.7,792.9 1518.3,792.9 1518.8,792.9 1519.4,792.9 1520.0,792.9 1520.5,792.9 1521.1,792.9 1521.7,792.9 1522.2,792.9 1522.8,792.9 1523.4,792.9 1524.0,792.9 1524.5,792.9 1525.1,792.9 1525.7,792.9 1526.2,792.9 1526.8,792.9 1527.4,792.9 1527.9,792.9 1528.5,792.9 1529.1,792.9 1529.6,792.9 1530.2,792.9 1530.8,792.9 1531.4,792.9 1531.9,792.9 1532.5,792.9 1533.1,792.9 1533.6,792.9 1534.2,792.9 1534.8,792.9 1535.3,792.9 1535.9,792.9 1536.5,792.9 1537.0,792.9 1537.6,792.9 1538.2,792.9 1538.7,792.9 1539.3,792.9 1539.9,792.9 1540.5,792.9 1541.0,792.9 1541.6,792.9 1542.2,792.9 1542.7,792.9 1543.3,792.9 1543.9,792.9 1544.4,792.9 1545.0,792.9 1545.6,792.9 1546.1,792.9 1546.7,792.9 1547.3,792.9 1547.9,792.9 1548.4,792.9 1549.0,792.9 1549.6,792.9 1550.1,792.9 1550.7,792.9 1551.3,792.9 1551.8,792.9 1552.4,792.8 1553.0,792.8 1553.5,792.8 1554.1,792.8 1554.7,792.8 1555.3,792.8 1555.8,792.8 1556.4,792.8 1557.0,792.8 1557.5,792.8 1558.1,792.8 1558.7,792.8 1559.2,792.8 1559.8,792.8 1560.4,792.8 1560.9,792.8 1561.5,792.8 1562.1,792.8 1562.6,792.8 1563.2,792.8 1563.8,792.8 1564.4,792.8 1564.9,792.8 1565.5,792.8 1566.1,792.8 1566.6,792.8 1567.2,792.8 1567.8,792.8 1568.3,792.8 1568.9,792.8 1569.5,792.8 1570.0,792.8 1570.6,792.8 1571.2,792.8 1571.8,792.8 1572.3,792.8 1572.9,792.8 1573.5,792.8 1574.0,792.8 1574.6,792.8 1575.2,792.8 1575.7,792.8 1576.3,792.8 1576.9,792.8 1577.4,792.8 1578.0,792.8 1578.6,792.8 1579.2,792.8 1579.7,792.8 1580.3,792.8 1580.9,792.8 1581.4,792.8 1582.0,792.8 1582.6,792.8 1583.1,792.8 1583.7,792.8 1584.3,792.8 1584.8,792.8 1585.4,792.7 1586.0,792.7 1586.5,792.7 1587.1,792.7 1587.7,792.7 1588.3,792.7 1588.8,792.7 1589.4,792.7 1590.0,792.7 1590.5,792.7 1591.1,792.7 1591.7,792.7 1592.2,792.7 1592.8,792.7 1593.4,792.7 1593.9,792.7 1594.5,792.7 1595.1,792.7 1595.7,792.7 1596.2,792.7 1596.8,792.7 1597.4,792.7 1597.9,792.7 1598.5,792.7 1599.1,792.7 1599.6,792.7 1600.2,792.7 1600.8,792.7 1601.3,792.7 1601.9,792.7 1602.5,792.7 1603.1,792.7 1603.6,792.7 1604.2,792.7 1604.8,792.7 1605.3,792.7 1605.9,792.7 1606.5,792.7 1607.0,792.7 1607.6,792.7 1608.2,792.7 1608.7,792.7 1609.3,792.7 1609.9,792.7 1610.4,792.7 1611.0,792.7 1611.6,792.6 1612.2,792.6 1612.7,792.6 1613.3,792.6 1613.9,792.6 1614.4,792.6 1615.0,792.6 1615.6,792.6 1616.1,792.6 1616.7,792.6 1617.3,792.6 1617.8,792.6 1618.4,792.6 1619.0,792.6 1619.6,792.6 1620.1,792.6 1620.7,792.6 1621.3,792.6 1621.8,792.6 1622.4,792.6 1623.0,792.6 1623.5,792.6 1624.1,792.6 1624.7,792.6 1625.2,792.6 1625.8,792.6 1626.4,792.6 1627.0,792.6 1627.5,792.6 1628.1,792.6 1628.7,792.6 1629.2,792.6 1629.8,792.6 1630.4,792.6 1630.9,792.6 1631.5,792.6 1632.1,792.6 1632.6,792.6 1633.2,792.6 1633.8,792.5 1634.3,792.5 1634.9,792.5 1635.5,792.5 1636.1,792.5 1636.6,792.5 1637.2,792.5 1637.8,792.5 1638.3,792.5 1638.9,792.5 1639.5,792.5 1640.0,792.5 1640.6,792.5 1641.2,792.5 1641.7,792.5 1642.3,792.5 1642.9,792.5 1643.5,792.5 1644.0,792.5 1644.6,792.5 1645.2,792.5 1645.7,792.5 1646.3,792.5 1646.9,792.5 1647.4,792.5 1648.0,792.5 1648.6,792.5 1649.1,792.5 1649.7,792.5 1650.3,792.5 1650.9,792.5 1651.4,792.5 1652.0,792.4 1652.6,792.4 1653.1,792.4 1653.7,792.4 1654.3,792.4 1654.8,792.4 1655.4,792.4 1656.0,792.4 1656.5,792.4 1657.1,792.4 1657.7,792.4 1658.2,792.4 1658.8,792.4 1659.4,792.4 1660.0,792.4 1660.5,792.4 1661.1,792.4 1661.7,792.4 1662.2,792.4 1662.8,792.4 1663.4,792.4 1663.9,792.4 1664.5,792.4 1665.1,792.4 1665.6,792.4 1666.2,792.4 1666.8,792.4 1667.4,792.3 1667.9,792.3 1668.5,792.3 1669.1,792.3 1669.6,792.3 1670.2,792.3 1670.8,792.3 1671.3,792.3 1671.9,792.3 1672.5,792.3 1673.0,792.3 1673.6,792.3 1674.2,792.3 1674.8,792.3 1675.3,792.3 1675.9,792.3 1676.5,792.3 1677.0,792.3 1677.6,792.3 1678.2,792.3 1678.7,792.3 1679.3,792.3 1679.9,792.3 1680.4,792.3 1681.0,792.2 1681.6,792.2 1682.1,792.2 1682.7,792.2 1683.3,792.2 1683.9,792.2 1684.4,792.2 1685.0,792.2 1685.6,792.2 1686.1,792.2 1686.7,792.2 1687.3,792.2 1687.8,792.2 1688.4,792.2 1689.0,792.2 1689.5,792.2 1690.1,792.2 1690.7,792.2 1691.3,792.2 1691.8,792.2 1692.4,792.2 1693.0,792.1 1693.5,792.1 1694.1,792.1 1694.7,792.1 1695.2,792.1 1695.8,792.1 1696.4,792.1 1696.9,792.1 1697.5,792.1 1698.1,792.1 1698.7,792.1 1699.2,792.1 1699.8,792.1 1700.4,792.1 1700.9,792.1 1701.5,792.1 1702.1,792.1 1702.6,792.1 1703.2,792.1 1703.8,792.0 1704.3,792.0 1704.9,792.0 1705.5,792.0 1706.0,792.0 1706.6,792.0 1707.2,792.0 1707.8,792.0 1708.3,792.0 1708.9,792.0 1709.5,792.0 1710.0,792.0 1710.6,792.0 1711.2,792.0 1711.7,792.0 1712.3,792.0 1712.9,791.9 1713.4,791.9 1714.0,791.9 1714.6,791.9 1715.2,791.9 1715.7,791.9 1716.3,791.9 1716.9,791.9 1717.4,791.9 1718.0,791.9 1718.6,791.9 1719.1,791.9 1719.7,791.9 1720.3,791.9 1720.8,791.9 1721.4,791.8 1722.0,791.8 1722.6,791.8 1723.1,791.8 1723.7,791.8 1724.3,791.8 1724.8,791.8 1725.4,791.8 1726.0,791.8 1726.5,791.8 1727.1,791.8 1727.7,791.8 1728.2,791.8 1728.8,791.8 1729.4,791.7 1729.9,791.7 1730.5,791.7 1731.1,791.7 1731.7,791.7 1732.2,791.7 1732.8,791.7 1733.4,791.7 1733.9,791.7 1734.5,791.7 1735.1,791.7 1735.6,791.7 1736.2,791.6 1736.8,791.6 1737.3,791.6 1737.9,791.6 1738.5,791.6 1739.1,791.6 1739.6,791.6 1740.2,791.6 1740.8,791.6 1741.3,791.6 1741.9,791.6 1742.5,791.5 1743.0,791.5 1743.6,791.5 1744.2,791.5 1744.7,791.5 1745.3,791.5 1745.9,791.5 1746.5,791.5 1747.0,791.5 1747.6,791.5 1748.2,791.4 1748.7,791.4 1749.3,791.4 1749.9,791.4 1750.4,791.4 1751.0,791.4 1751.6,791.4 1752.1,791.4 1752.7,791.4 1753.3,791.4 1753.8,791.3 1754.4,791.3 1755.0,791.3 1755.6,791.3 1756.1,791.3 1756.7,791.3 1757.3,791.3 1757.8,791.3 1758.4,791.3 1759.0,791.2 1759.5,791.2 1760.1,791.2 1760.7,791.2 1761.2,791.2 1761.8,791.2 1762.4,791.2 1763.0,791.2 1763.5,791.1 1764.1,791.1 1764.7,791.1 1765.2,791.1 1765.8,791.1 1766.4,791.1 1766.9,791.1 1767.5,791.1 1768.1,791.0 1768.6,791.0 1769.2,791.0 1769.8,791.0 1770.4,791.0 1770.9,791.0 1771.5,791.0 1772.1,790.9 1772.6,790.9 1773.2,790.9 1773.8,790.9 1774.3,790.9 1774.9,790.9 1775.5,790.9 1776.0,790.8 1776.6,790.8 1777.2,790.8 1777.7,790.8 1778.3,790.8 1778.9,790.8 1779.5,790.7 1780.0,790.7 1780.6,790.7 1781.2,790.7 1781.7,790.7 1782.3,790.7 1782.9,790.6 1783.4,790.6 1784.0,790.6 1784.6,790.6 1785.1,790.6 1785.7,790.6 1786.3,790.5 1786.9,790.5 1787.4,790.5 1788.0,790.5 1788.6,790.5 1789.1,790.4 1789.7,790.4 1790.3,790.4 1790.8,790.4 1791.4,790.4 1792.0,790.3 1792.5,790.3 1793.1,790.3 1793.7,790.3 1794.3,790.3 1794.8,790.2 1795.4,790.2 1796.0,790.2 1796.5,790.2 1797.1,790.1 1797.7,790.1 1798.2,790.1 1798.8,790.1 1799.4,790.1 1799.9,790.0 1800.5,790.0 1801.1,790.0 1801.6,790.0 1802.2,789.9 1802.8,789.9 1803.4,789.9 1803.9,789.9 1804.5,789.8 1805.1,789.8 1805.6,789.8 1806.2,789.8 1806.8,789.7 1807.3,789.7 1807.9,789.7 1808.5,789.6 1809.0,789.6 1809.6,789.6 1810.2,789.6 1810.8,789.5 1811.3,789.5 1811.9,789.5 1812.5,789.4 1813.0,789.4 1813.6,789.4 1814.2,789.3 1814.7,789.3 1815.3,789.3 1815.9,789.2 1816.4,789.2 1817.0,789.2 1817.6,789.1 1818.2,789.1 1818.7,789.1 1819.3,789.0 1819.9,789.0 1820.4,789.0 1821.0,788.9 1821.6,788.9 1822.1,788.9 1822.7,788.8 1823.3,788.8 1823.8,788.7 1824.4,788.7 1825.0,788.7 1825.5,788.6 1826.1,788.6 1826.7,788.5 1827.3,788.5 1827.8,788.4 1828.4,788.4 1829.0,788.4 1829.5,788.3 1830.1,788.3 1830.7,788.2 1831.2,788.2 1831.8,788.1 1832.4,788.1 1832.9,788.0 1833.5,788.0 1834.1,787.9 1834.7,787.9 1835.2,787.8 1835.8,787.8 1836.4,787.7 1836.9,787.7 1837.5,787.6 1838.1,787.5 1838.6,787.5 1839.2,787.4 1839.8,787.4 1840.3,787.3 1840.9,787.2 1841.5,787.2 1842.1,787.1 1842.6,787.1 1843.2,787.0 1843.8,786.9 1844.3,786.9 1844.9,786.8 1845.5,786.7 1846.0,786.6 1846.6,786.6 1847.2,786.5 1847.7,786.4 1848.3,786.3 1848.9,786.3 1849.4,786.2 1850.0,786.1 1850.6,786.0 1851.2,785.9 1851.7,785.9 1852.3,785.8 1852.9,785.7 1853.4,785.6 1854.0,785.5 1854.6,785.4 1855.1,785.3 1855.7,785.2 1856.3,785.1 1856.8,785.0 1857.4,784.9 1858.0,784.8 1858.6,784.7 1859.1,784.6 1859.7,784.5 1860.3,784.4 1860.8,784.2 1861.4,784.1 1862.0,784.0 1862.5,783.9 1863.1,783.8 1863.7,783.6 1864.2,783.5 1864.8,783.4 1865.4,783.2 1866.0,783.1 1866.5,782.9 1867.1,782.8 1867.7,782.6 1868.2,782.5 1868.8,782.3 1869.4,782.2 1869.9,782.0 1870.5,781.8 1871.1,781.7 1871.6,781.5 1872.2,781.3 1872.8,781.1 1873.3,780.9 1873.9,780.7 1874.5,780.5 1875.1,780.3 1875.6,780.1 1876.2,779.9 1876.8,779.7 1877.3,779.5 1877.9,779.2 1878.5,779.0 1879.0,778.7 1879.6,778.5 1880.2,778.2 1880.7,778.0 1881.3,777.7 1881.9,777.4 1882.5,777.1 1883.0,776.8 1883.6,776.5 1884.2,776.2 1884.7,775.9 1885.3,775.5 1885.9,775.2 1886.4,774.8 1887.0,774.5 1887.6,774.1 1888.1,773.7 1888.7,773.3 1889.3,772.9 1889.9,772.4 1890.4,772.0 1891.0,771.5 1891.6,771.0 1892.1,770.5 1892.7,770.0 1893.3,769.5 1893.8,768.9 1894.4,768.3 1895.0,767.8 1895.5,767.1 1896.1,766.5 1896.7,765.8 1897.2,765.1 1897.8,764.4 1898.4,763.7 1899.0,762.9 1899.5,762.1 1900.1,761.2 1900.7,760.3 1901.2,759.4 1901.8,758.4 1902.4,757.4 1902.9,756.4 1903.5,755.3 1904.1,754.1 1904.6,752.9 1905.2,751.6 1905.8,750.3 1906.4,748.9 1906.9,747.5 1907.5,745.9 1908.1,744.3 1908.6,742.6 1909.2,740.8 1909.8,738.9 1910.3,736.9 1910.9,734.8 1911.5,732.6 1912.0,730.3 1912.6,727.8 1913.2,725.2 1913.8,722.4 1914.3,719.5 1914.9,716.4 1915.5,713.2 1916.0,709.7 1916.6,706.0 1917.2,702.2 1917.7,698.1 1918.3,693.8 1918.9,689.2 1919.4,684.4 1920.0,679.4 1920.6,674.1 1921.1,668.6 1921.7,662.9 1922.3,657.0 1922.9,650.9 1923.4,644.7 1924.0,638.4 1924.6,632.1 1925.1,625.9 1925.7,619.9 1926.3,614.1 1926.8,608.8 1927.4,604.0 1928.0,599.9 1928.5,596.5 1929.1,594.1 1929.7,592.6 1930.3,592.2 1930.8,592.6 1931.4,594.0 1932.0,596.2 1932.5,599.1 1933.1,602.8 1933.7,607.0 1934.2,611.8 1934.8,616.9 1935.4,622.5 1935.9,628.2 1936.5,634.1 1937.1,640.1 1937.7,646.1 1938.2,652.1 1938.8,657.9 1939.4,663.7 1939.9,669.2 1940.5,674.6 1941.1,679.9 1941.6,684.9 1942.2,689.6 1942.8,694.2 1943.3,698.6 1943.9,702.7 1944.5,706.7 1945.0,710.4 1945.6,714.0 1946.2,717.4 1946.8,720.6 1947.3,723.6 1947.9,726.5 1948.5,729.2 1949.0,731.8 1949.6,734.2 1950.2,736.5 1950.7,738.7 1951.3,740.8 1951.9,742.8 1952.4,744.6 1953.0,746.4 1953.6,748.1 1954.2,749.7 1954.7,751.3 1955.3,752.7 1955.9,754.1 1956.4,755.4 1957.0,756.7 1957.6,757.9 1958.1,759.0 1958.7,760.1 1959.3,761.2 1959.8,762.2 1960.4,763.1 1961.0,764.0 1961.6,764.9 1962.1,765.7 1962.7,766.5 1963.3,767.3 1963.8,768.0 1964.4,768.7 1965.0,769.4 1965.5,770.1 1966.1,770.7 1966.7,771.3 1967.2,771.9 1967.8,772.4 1968.4,772.9 1968.9,773.5 1969.5,774.0 1970.1,774.4 1970.7,774.9 1971.2,775.3 1971.8,775.8 1972.4,776.2 1972.9,776.6 1973.5,777.0 1974.1,777.3 1974.6,777.7 1975.2,778.0 1975.8,778.4 1976.3,778.7 1976.9,779.0 1977.5,779.3 1978.1,779.6 1978.6,779.9 1979.2,780.2 1979.8,780.5 1980.3,780.7 1980.9,781.0 1981.5,781.2 1982.0,781.5 1982.6,781.7 1983.2,781.9 1983.7,782.1 1984.3,782.4 1984.9,782.6 1985.5,782.8 1986.0,783.0 1986.6,783.2 1987.2,783.3 1987.7,783.5 1988.3,783.7 1988.9,783.9 1989.4,784.0 1990.0,784.2 1990.6,784.3 1991.1,784.5 1991.7,784.7 1992.3,784.8 1992.8,784.9 1993.4,785.1 1994.0,785.2 1994.6,785.3 1995.1,785.5 1995.7,785.6 1996.3,785.7 1996.8,785.8 1997.4,786.0 1998.0,786.1 1998.5,786.2 1999.1,786.3 1999.7,786.4 2000.2,786.5 2000.8,786.6 2001.4,786.7 2002.0,786.8 2002.5,786.9 2003.1,787.0 2003.7,787.1 2004.2,787.2 2004.8,787.3 2005.4,787.4 2005.9,787.4 2006.5,787.5 2007.1,787.6 2007.6,787.7 2008.2,787.8 2008.8,787.8 2009.4,787.9 2009.9,788.0 2010.5,788.1 2011.1,788.1 2011.6,788.2 2012.2,788.3 2012.8,788.3 2013.3,788.4 2013.9,788.5 2014.5,788.5 2015.0,788.6 2015.6,788.6 2016.2,788.7 2016.7,788.8 2017.3,788.8 2017.9,788.9 2018.5,788.9 2019.0,789.0 2019.6,789.0 2020.2,789.1 2020.7,789.1 2021.3,789.2 2021.9,789.2 2022.4,789.3 2023.0,789.3 2023.6,789.4 2024.1,789.4 2024.7,789.5 2025.3,789.5 2025.9,789.6 2026.4,789.6 2027.0,789.6 2027.6,789.7 2028.1,789.7 2028.7,789.8 2029.3,789.8 2029.8,789.8 2030.4,789.9 2031.0,789.9 2031.5,790.0 2032.1,790.0 2032.7,790.0 2033.3,790.1 2033.8,790.1 2034.4,790.1 2035.0,790.2 2035.5,790.2 2036.1,790.2 2036.7,790.3 2037.2,790.3 2037.8,790.3 2038.4,790.4 2038.9,790.4 2039.5,790.4 2040.1,790.5 2040.6,790.5 2041.2,790.5 2041.8,790.5 2042.4,790.6 2042.9,790.6 2043.5,790.6 2044.1,790.6 2044.6,790.7 2045.2,790.7 2045.8,790.7 2046.3,790.7 2046.9,790.8 2047.5,790.8 2048.0,790.8 2048.6,790.8 2049.2,790.9 2049.8,790.9 2050.3,790.9 2050.9,790.9 2051.5,791.0 2052.0,791.0 2052.6,791.0 2053.2,791.0 2053.7,791.0 2054.3,791.1 2054.9,791.1 2055.4,791.1 2056.0,791.1 2056.6,791.1 2057.2,791.2 2057.7,791.2 2058.3,791.2 2058.9,791.2 2059.4,791.2 2060.0,791.3 2060.6,791.3 2061.1,791.3 2061.7,791.3 2062.3,791.3 2062.8,791.4 2063.4,791.4 2064.0,791.4 2064.5,791.4 2065.1,791.4 2065.7,791.4 2066.3,791.5 2066.8,791.5 2067.4,791.5 2068.0,791.5 2068.5,791.5 2069.1,791.5 2069.7,791.5 2070.2,791.6 2070.8,791.6 2071.4,791.6 2071.9,791.6 2072.5,791.6 2073.1,791.6 2073.7,791.6 2074.2,791.7 2074.8,791.7 2075.4,791.7 2075.9,791.7 2076.5,791.7 2077.1,791.7 2077.6,791.7 2078.2,791.7 2078.8,791.8 2079.3,791.8 2079.9,791.8 2080.5,791.8 2081.1,791.8 2081.6,791.8 2082.2,791.8 2082.8,791.8 2083.3,791.9 2083.9,791.9 2084.5,791.9 2085.0,791.9 2085.6,791.9 2086.2,791.9 2086.7,791.9 2087.3,791.9 2087.9,791.9 2088.4,792.0 2089.0,792.0 2089.6,792.0 2090.2,792.0 2090.7,792.0 2091.3,792.0 2091.9,792.0 2092.4,792.0 2093.0,792.0 2093.6,792.0 2094.1,792.1 2094.7,792.1 2095.3,792.1 2095.8,792.1 2096.4,792.1 2097.0,792.1 2097.6,792.1 2098.1,792.1 2098.7,792.1 2099.3,792.1 2099.8,792.1 2100.4,792.1 2101.0,792.2 2101.5,792.2 2102.1,792.2 2102.7,792.2 2103.2,792.2 2103.8,792.2 2104.4,792.2 2105.0,792.2 2105.5,792.2 2106.1,792.2 2106.7,792.2 2107.2,792.2 2107.8,792.3 2108.4,792.3 2108.9,792.3 2109.5,792.3 2110.1,792.3 2110.6,792.3 2111.2,792.3 2111.8,792.3 2112.3,792.3 2112.9,792.3 2113.5,792.3 2114.1,792.3 2114.6,792.3 2115.2,792.3 2115.8,792.4 2116.3,792.4 2116.9,792.4 2117.5,792.4 2118.0,792.4 2118.6,792.4 2119.2,792.4 2119.7,792.4 2120.3,792.4 2120.9,792.4 2121.5,792.4 2122.0,792.4 2122.6,792.4 2123.2,792.4 2123.7,792.4 2124.3,792.4 2124.9,792.4 2125.4,792.5 2126.0,792.5 2126.6,792.5 2127.1,792.5 2127.7,792.5 2128.3,792.5 2128.9,792.5 2129.4,792.5 2130.0,792.5 2130.6,792.5 2131.1,792.5 2131.7,792.5 2132.3,792.5 2132.8,792.5 2133.4,792.5 2134.0,792.5 2134.5,792.5 2135.1,792.5 2135.7,792.6 2136.2,792.6 2136.8,792.6 2137.4,792.6 2138.0,792.6 2138.5,792.6 2139.1,792.6 2139.7,792.6 2140.2,792.6 2140.8,792.6 2141.4,792.6 2141.9,792.6 2142.5,792.6 2143.1,792.6 2143.6,792.6 2144.2,792.6 2144.8,792.6 2145.4,792.6 2145.9,792.6 2146.5,792.6 2147.1,792.6 2147.6,792.6 2148.2,792.6 2148.8,792.7 2149.3,792.7 2149.9,792.7 2150.5,792.7 2151.0,792.7 2151.6,792.7 2152.2,792.7 2152.8,792.7 2153.3,792.7 2153.9,792.7 2154.5,792.7 2155.0,792.7 2155.6,792.7 2156.2,792.7 2156.7,792.7 2157.3,792.7 2157.9,792.7 2158.4,792.7 2159.0,792.7 2159.6,792.7 2160.1,792.7 2160.7,792.7 2161.3,792.7 2161.9,792.7 2162.4,792.7 2163.0,792.7 2163.6,792.8 2164.1,792.8 2164.7,792.8 2165.3,792.8 2165.8,792.8 2166.4,792.8 2167.0,792.8 2167.5,792.8 2168.1,792.8 2168.7,792.8 2169.3,792.8 2169.8,792.8 2170.4,792.8 2171.0,792.8 2171.5,792.8 2172.1,792.8 2172.7,792.8 2173.2,792.8 2173.8,792.8 2174.4,792.8 2174.9,792.8 2175.5,792.8 2176.1,792.8 2176.7,792.8 2177.2,792.8 2177.8,792.8 2178.4,792.8 2178.9,792.8 2179.5,792.8 2180.1,792.8 2180.6,792.8 2181.2,792.8 2181.8,792.8 2182.3,792.9 2182.9,792.9 2183.5,792.9 2184.0,792.9 2184.6,792.9 2185.2,792.9 2185.8,792.9 2186.3,792.9 2186.9,792.9 2187.5,792.9 2188.0,792.9 2188.6,792.9 2189.2,792.9 2189.7,792.9 2190.3,792.9 2190.9,792.9 2191.4,792.9 2192.0,792.9 2192.6,792.9 2193.2,792.9 2193.7,792.9 2194.3,792.9 2194.9,792.9 2195.4,792.9 2196.0,792.9 2196.6,792.9 2197.1,792.9 2197.7,792.9 2198.3,792.9 2198.8,792.9 2199.4,792.9 2200.0,792.9 2200.6,792.9 2201.1,792.9 2201.7,792.9 2202.3,792.9 2202.8,792.9 2203.4,792.9 2204.0,792.9 2204.5,792.9 2205.1,792.9 2205.7,793.0 2206.2,793.0 2206.8,793.0 2207.4,793.0 2207.9,793.0 2208.5,793.0 2209.1,793.0 2209.7,793.0 2210.2,793.0 2210.8,793.0 2211.4,793.0 2211.9,793.0 2212.5,793.0" fill="none" stroke="#ff0000" stroke-width="7" stroke-linejoin="round" shape-rendering="crispEdges"/><polyline points="1359.5,793.5 1360.1,793.5 1360.6,793.5 1361.2,793.5 1361.8,793.5 1362.3,793.5 1362.9,793.5 1363.5,793.5 1364.1,793.5 1364.6,793.5 1365.2,793.5 1365.8,793.5 1366.3,793.5 1366.9,793.5 1367.5,793.5 1368.0,793.5 1368.6,793.5 1369.2,793.5 1369.7,793.5 1370.3,793.5 1370.9,793.5 1371.4,793.5 1372.0,793.5 1372.6,793.5 1373.2,793.5 1373.7,793.5 1374.3,793.5 1374.9,793.5 1375.4,793.5 1376.0,793.5 1376.6,793.5 1377.1,793.5 1377.7,793.5 1378.3,793.5 1378.8,793.5 1379.4,793.5 1380.0,793.5 1380.6,793.5 1381.1,793.5 1381.7,793.5 1382.3,793.5 1382.8,793.5 1383.4,793.5 1384.0,793.5 1384.5,793.5 1385.1,793.5 1385.7,793.5 1386.2,793.5 1386.8,793.5 1387.4,793.5 1388.0,793.5 1388.5,793.5 1389.1,793.5 1389.7,793.5 1390.2,793.5 1390.8,793.5 1391.4,793.5 1391.9,793.5 1392.5,793.5 1393.1,793.5 1393.6,793.5 1394.2,793.5 1394.8,793.5 1395.3,793.5 1395.9,793.5 1396.5,793.5 1397.1,793.5 1397.6,793.5 1398.2,793.5 1398.8,793.5 1399.3,793.5 1399.9,793.5 1400.5,793.5 1401.0,793.5 1401.6,793.5 1402.2,793.5 1402.7,793.5 1403.3,793.5 1403.9,793.5 1404.5,793.5 1405.0,793.5 1405.6,793.5 1406.2,793.5 1406.7,793.5 1407.3,793.5 1407.9,793.5 1408.4,793.5 1409.0,793.5 1409.6,793.5 1410.1,793.5 1410.7,793.5 1411.3,793.5 1411.9,793.5 1412.4,793.5 1413.0,793.5 1413.6,793.5 1414.1,793.5 1414.7,793.5 1415.3,793.5 1415.8,793.5 1416.4,793.5 1417.0,793.5 1417.5,793.5 1418.1,793.5 1418.7,793.5 1419.2,793.5 1419.8,793.5 1420.4,793.5 1421.0,793.5 1421.5,793.5 1422.1,793.5 1422.7,793.5 1423.2,793.5 1423.8,793.5 1424.4,793.5 1424.9,793.5 1425.5,793.5 1426.1,793.5 1426.6,793.5 1427.2,793.5 1427.8,793.5 1428.4,793.5 1428.9,793.5 1429.5,793.5 1430.1,793.5 1430.6,793.5 1431.2,793.5 1431.8,793.5 1432.3,793.5 1432.9,793.5 1433.5,793.5 1434.0,793.5 1434.6,793.5 1435.2,793.5 1435.8,793.5 1436.3,793.5 1436.9,793.5 1437.5,793.5 1438.0,793.5 1438.6,793.5 1439.2,793.5 1439.7,793.5 1440.3,793.5 1440.9,793.5 1441.4,793.5 1442.0,793.5 1442.6,793.5 1443.1,793.5 1443.7,793.5 1444.3,793.5 1444.9,793.5 1445.4,793.5 1446.0,793.5 1446.6,793.5 1447.1,793.5 1447.7,793.5 1448.3,793.5 1448.8,793.5 1449.4,793.5 1450.0,793.5 1450.5,793.5 1451.1,793.5 1451.7,793.5 1452.3,793.5 1452.8,793.5 1453.4,793.5 1454.0,793.5 1454.5,793.5 1455.1,793.5 1455.7,793.5 1456.2,793.5 1456.8,793.5 1457.4,793.5 1457.9,793.5 1458.5,793.5 1459.1,793.5 1459.7,793.5 1460.2,793.5 1460.8,793.5 1461.4,793.5 1461.9,793.5 1462.5,793.5 1463.1,793.5 1463.6,793.5 1464.2,793.5 1464.8,793.5 1465.3,793.5 1465.9,793.5 1466.5,793.5 1467.0,793.5 1467.6,793.5 1468.2,793.5 1468.8,793.5 1469.3,793.5 1469.9,793.5 1470.5,793.5 1471.0,793.5 1471.6,793.5 1472.2,793.5 1472.7,793.5 1473.3,793.5 1473.9,793.5 1474.4,793.5 1475.0,793.5 1475.6,793.5 1476.2,793.5 1476.7,793.5 1477.3,793.5 1477.9,793.5 1478.4,793.5 1479.0,793.5 1479.6,793.5 1480.1,793.5 1480.7,793.5 1481.3,793.5 1481.8,793.5 1482.4,793.5 1483.0,793.5 1483.6,793.5 1484.1,793.5 1484.7,793.5 1485.3,793.5 1485.8,793.5 1486.4,793.5 1487.0,793.5 1487.5,793.5 1488.1,793.5 1488.7,793.5 1489.2,793.5 1489.8,793.5 1490.4,793.5 1490.9,793.5 1491.5,793.5 1492.1,793.5 1492.7,793.5 1493.2,793.5 1493.8,793.5 1494.4,793.5 1494.9,793.5 1495.5,793.5 1496.1,793.5 1496.6,793.5 1497.2,793.5 1497.8,793.5 1498.3,793.5 1498.9,793.5 1499.5,793.5 1500.1,793.5 1500.6,793.5 1501.2,793.5 1501.8,793.5 1502.3,793.5 1502.9,793.5 1503.5,793.5 1504.0,793.5 1504.6,793.5 1505.2,793.5 1505.7,793.5 1506.3,793.5 1506.9,793.5 1507.5,793.5 1508.0,793.5 1508.6,793.5 1509.2,793.5 1509.7,793.5 1510.3,793.5 1510.9,793.5 1511.4,793.5 1512.0,793.5 1512.6,793.5 1513.1,793.5 1513.7,793.5 1514.3,793.5 1514.8,793.5 1515.4,793.5 1516.0,793.5 1516.6,793.5 1517.1,793.5 1517.7,793.5 1518.3,793.5 1518.8,793.5 1519.4,793.5 1520.0,793.5 1520.5,793.5 1521.1,793.5 1521.7,793.5 1522.2,793.5 1522.8,793.5 1523.4,793.5 1524.0,793.5 1524.5,793.5 1525.1,793.5 1525.7,793.5 1526.2,793.5 1526.8,793.5 1527.4,793.5 1527.9,793.5 1528.5,793.5 1529.1,793.5 1529.6,793.5 1530.2,793.5 1530.8,793.5 1531.4,793.5 1531.9,793.5 1532.5,793.5 1533.1,793.5 1533.6,793.5 1534.2,793.5 1534.8,793.5 1535.3,793.5 1535.9,793.5 1536.5,793.5 1537.0,793.5 1537.6,793.5 1538.2,793.5 1538.7,793.5 1539.3,793.5 1539.9,793.5 1540.5,793.5 1541.0,793.5 1541.6,793.5 1542.2,793.5 1542.7,793.5 1543.3,793.5 1543.9,793.5 1544.4,793.5 1545.0,793.5 1545.6,793.5 1546.1,793.5 1546.7,793.5 1547.3,793.5 1547.9,793.5 1548.4,793.5 1549.0,793.5 1549.6,793.5 1550.1,793.5 1550.7,793.5 1551.3,793.5 1551.8,793.5 1552.4,793.5 1553.0,793.5 1553.5,793.5 1554.1,793.5 1554.7,793.5 1555.3,793.5 1555.8,793.5 1556.4,793.5 1557.0,793.5 1557.5,793.5 1558.1,793.5 1558.7,793.5 1559.2,793.5 1559.8,793.5 1560.4,793.5 1560.9,793.5 1561.5,793.5 1562.1,793.5 1562.6,793.5 1563.2,793.5 1563.8,793.5 1564.4,793.5 1564.9,793.5 1565.5,793.5 1566.1,793.5 1566.6,793.5 1567.2,793.5 1567.8,793.5 1568.3,793.5 1568.9,793.5 1569.5,793.5 1570.0,793.5 1570.6,793.5 1571.2,793.5 1571.8,793.5 1572.3,793.5 1572.9,793.5 1573.5,793.5 1574.0,793.5 1574.6,793.5 1575.2,793.5 1575.7,793.5 1576.3,793.5 1576.9,793.5 1577.4,793.5 1578.0,793.5 1578.6,793.5 1579.2,793.5 1579.7,793.5 1580.3,793.5 1580.9,793.5 1581.4,793.5 1582.0,793.5 1582.6,793.5 1583.1,793.5 1583.7,793.5 1584.3,793.5 1584.8,793.5 1585.4,793.5 1586.0,793.5 1586.5,793.5 1587.1,793.5 1587.7,793.5 1588.3,793.5 1588.8,793.5 1589.4,793.5 1590.0,793.5 1590.5,793.5 1591.1,793.5 1591.7,793.5 1592.2,793.5 1592.8,793.5 1593.4,793.5 1593.9,793.5 1594.5,793.5 1595.1,793.5 1595.7,793.5 1596.2,793.5 1596.8,793.5 1597.4,793.5 1597.9,793.5 1598.5,793.5 1599.1,793.5 1599.6,793.5 1600.2,793.5 1600.8,793.5 1601.3,793.5 1601.9,793.5 1602.5,793.5 1603.1,793.5 1603.6,793.5 1604.2,793.5 1604.8,793.5 1605.3,793.5 1605.9,793.5 1606.5,793.5 1607.0,793.5 1607.6,793.5 1608.2,793.5 1608.7,793.5 1609.3,793.5 1609.9,793.5 1610.4,793.5 1611.0,793.5 1611.6,793.5 1612.2,793.5 1612.7,793.5 1613.3,793.5 1613.9,793.5 1614.4,793.5 1615.0,793.5 1615.6,793.5 1616.1,793.5 1616.7,793.5 1617.3,793.5 1617.8,793.5 1618.4,793.5 1619.0,793.5 1619.6,793.5 1620.1,793.5 1620.7,793.5 1621.3,793.5 1621.8,793.5 1622.4,793.5 1623.0,793.5 1623.5,793.5 1624.1,793.5 1624.7,793.5 1625.2,793.5 1625.8,793.5 1626.4,793.5 1627.0,793.5 1627.5,793.5 1628.1,793.5 1628.7,793.5 1629.2,793.5 1629.8,793.5 1630.4,793.5 1630.9,793.5 1631.5,793.5 1632.1,793.5 1632.6,793.5 1633.2,793.5 1633.8,793.5 1634.3,793.5 1634.9,793.5 1635.5,793.5 1636.1,793.5 1636.6,793.5 1637.2,793.5 1637.8,793.5 1638.3,793.5 1638.9,793.5 1639.5,793.5 1640.0,793.5 1640.6,793.5 1641.2,793.5 1641.7,793.5 1642.3,793.5 1642.9,793.5 1643.5,793.5 1644.0,793.5 1644.6,793.5 1645.2,793.5 1645.7,793.5 1646.3,793.5 1646.9,793.5 1647.4,793.5 1648.0,793.5 1648.6,793.5 1649.1,793.5 1649.7,793.5 1650.3,793.5 1650.9,793.5 1651.4,793.5 1652.0,793.5 1652.6,793.5 1653.1,793.5 1653.7,793.5 1654.3,793.5 1654.8,793.5 1655.4,793.5 1656.0,793.5 1656.5,793.5 1657.1,793.5 1657.7,793.5 1658.2,793.5 1658.8,793.5 1659.4,793.5 1660.0,793.5 1660.5,793.5 1661.1,793.5 1661.7,793.5 1662.2,793.5 1662.8,793.5 1663.4,793.5 1663.9,793.5 1664.5,793.5 1665.1,793.5 1665.6,793.5 1666.2,793.5 1666.8,793.5 1667.4,793.5 1667.9,793.5 1668.5,793.5 1669.1,793.5 1669.6,793.5 1670.2,793.5 1670.8,793.5 1671.3,793.5 1671.9,793.5 1672.5,793.5 1673.0,793.5 1673.6,793.5 1674.2,793.5 1674.8,793.5 1675.3,793.5 1675.9,793.5 1676.5,793.5 1677.0,793.5 1677.6,793.5 1678.2,793.5 1678.7,793.5 1679.3,793.5 1679.9,793.5 1680.4,793.5 1681.0,793.5 1681.6,793.5 1682.1,793.5 1682.7,793.5 1683.3,793.5 1683.9,793.5 1684.4,793.5 1685.0,793.5 1685.6,793.5 1686.1,793.5 1686.7,793.5 1687.3,793.5 1687.8,793.5 1688.4,793.5 1689.0,793.5 1689.5,793.5 1690.1,793.5 1690.7,793.5 1691.3,793.5 1691.8,793.5 1692.4,793.5 1693.0,793.5 1693.5,793.5 1694.1,793.5 1694.7,793.5 1695.2,793.5 1695.8,793.5 1696.4,793.5 1696.9,793.5 1697.5,793.5 1698.1,793.5 1698.7,793.5 1699.2,793.5 1699.8,793.5 1700.4,793.5 1700.9,793.5 1701.5,793.5 1702.1,793.5 1702.6,793.5 1703.2,793.5 1703.8,793.5 1704.3,793.5 1704.9,793.5 1705.5,793.5 1706.0,793.5 1706.6,793.5 1707.2,793.5 1707.8,793.5 1708.3,793.5 1708.9,793.5 1709.5,793.5 1710.0,793.5 1710.6,793.5 1711.2,793.5 1711.7,793.5 1712.3,793.5 1712.9,793.5 1713.4,793.5 1714.0,793.5 1714.6,793.5 1715.2,793.5 1715.7,793.5 1716.3,793.5 1716.9,793.5 1717.4,793.5 1718.0,793.5 1718.6,793.5 1719.1,793.5 1719.7,793.5 1720.3,793.5 1720.8,793.5 1721.4,793.5 1722.0,793.5 1722.6,793.5 1723.1,793.5 1723.7,793.5 1724.3,793.5 1724.8,793.5 1725.4,793.5 1726.0,793.5 1726.5,793.5 1727.1,793.5 1727.7,793.5 1728.2,793.5 1728.8,793.5 1729.4,793.5 1729.9,793.5 1730.5,793.5 1731.1,793.5 1731.7,793.5 1732.2,793.5 1732.8,793.5 1733.4,793.5 1733.9,793.5 1734.5,793.5 1735.1,793.5 1735.6,793.5 1736.2,793.5 1736.8,793.5 1737.3,793.5 1737.9,793.5 1738.5,793.5 1739.1,793.5 1739.6,793.5 1740.2,793.5 1740.8,793.5 1741.3,793.5 1741.9,793.5 1742.5,793.5 1743.0,793.5 1743.6,793.5 1744.2,793.5 1744.7,793.5 1745.3,793.5 1745.9,793.5 1746.5,793.5 1747.0,793.5 1747.6,793.5 1748.2,793.5 1748.7,793.5 1749.3,793.5 1749.9,793.5 1750.4,793.5 1751.0,793.5 1751.6,793.5 1752.1,793.5 1752.7,793.5 1753.3,793.5 1753.8,793.5 1754.4,793.5 1755.0,793.5 1755.6,793.5 1756.1,793.5 1756.7,793.5 1757.3,793.5 1757.8,793.5 1758.4,793.5 1759.0,793.5 1759.5,793.5 1760.1,793.5 1760.7,793.5 1761.2,793.5 1761.8,793.5 1762.4,793.5 1763.0,793.5 1763.5,793.5 1764.1,793.5 1764.7,793.5 1765.2,793.5 1765.8,793.5 1766.4,793.5 1766.9,793.5 1767.5,793.5 1768.1,793.5 1768.6,793.5 1769.2,793.5 1769.8,793.5 1770.4,793.5 1770.9,793.5 1771.5,793.5 1772.1,793.5 1772.6,793.5 1773.2,793.5 1773.8,793.5 1774.3,793.5 1774.9,793.5 1775.5,793.5 1776.0,793.5 1776.6,793.5 1777.2,793.5 1777.7,793.5 1778.3,793.5 1778.9,793.5 1779.5,793.5 1780.0,793.5 1780.6,793.5 1781.2,793.5 1781.7,793.5 1782.3,793.5 1782.9,793.5 1783.4,793.5 1784.0,793.5 1784.6,793.5 1785.1,793.5 1785.7,793.5 1786.3,793.5 1786.9,793.5 1787.4,793.5 1788.0,793.5 1788.6,793.5 1789.1,793.5 1789.7,793.5 1790.3,793.5 1790.8,793.5 1791.4,793.5 1792.0,793.5 1792.5,793.5 1793.1,793.5 1793.7,793.5 1794.3,793.5 1794.8,793.5 1795.4,793.5 1796.0,793.5 1796.5,793.5 1797.1,793.5 1797.7,793.5 1798.2,793.5 1798.8,793.5 1799.4,793.5 1799.9,793.5 1800.5,793.5 1801.1,793.5 1801.6,793.5 1802.2,793.5 1802.8,793.5 1803.4,793.5 1803.9,793.5 1804.5,793.5 1805.1,793.5 1805.6,793.5 1806.2,793.5 1806.8,793.5 1807.3,793.5 1807.9,793.5 1808.5,793.5 1809.0,793.5 1809.6,793.5 1810.2,793.5 1810.8,793.5 1811.3,793.5 1811.9,793.5 1812.5,793.5 1813.0,793.5 1813.6,793.5 1814.2,793.5 1814.7,793.5 1815.3,793.5 1815.9,793.5 1816.4,793.5 1817.0,793.5 1817.6,793.5 1818.2,793.5 1818.7,793.5 1819.3,793.5 1819.9,793.5 1820.4,793.5 1821.0,793.5 1821.6,793.5 1822.1,793.5 1822.7,793.5 1823.3,793.5 1823.8,793.5 1824.4,793.5 1825.0,793.5 1825.5,793.5 1826.1,793.5 1826.7,793.5 1827.3,793.5 1827.8,793.5 1828.4,793.5 1829.0,793.5 1829.5,793.5 1830.1,793.5 1830.7,793.5 1831.2,793.5 1831.8,793.5 1832.4,793.5 1832.9,793.5 1833.5,793.5 1834.1,793.5 1834.7,793.5 1835.2,793.5 1835.8,793.5 1836.4,793.5 1836.9,793.5 1837.5,793.5 1838.1,793.5 1838.6,793.5 1839.2,793.5 1839.8,793.5 1840.3,793.5 1840.9,793.5 1841.5,793.5 1842.1,793.5 1842.6,793.5 1843.2,793.5 1843.8,793.5 1844.3,793.5 1844.9,793.5 1845.5,793.5 1846.0,793.5 1846.6,793.5 1847.2,793.5 1847.7,793.5 1848.3,793.5 1848.9,793.5 1849.4,793.5 1850.0,793.5 1850.6,793.5 1851.2,793.5 1851.7,793.5 1852.3,793.5 1852.9,793.5 1853.4,793.5 1854.0,793.5 1854.6,793.5 1855.1,793.5 1855.7,793.5 1856.3,793.5 1856.8,793.5 1857.4,793.5 1858.0,793.5 1858.6,793.5 1859.1,793.5 1859.7,793.5 1860.3,793.5 1860.8,793.5 1861.4,793.5 1862.0,793.5 1862.5,793.5 1863.1,793.5 1863.7,793.5 1864.2,793.5 1864.8,793.5 1865.4,793.5 1866.0,793.5 1866.5,793.5 1867.1,793.5 1867.7,793.5 1868.2,793.5 1868.8,793.5 1869.4,793.5 1869.9,793.5 1870.5,793.5 1871.1,793.5 1871.6,793.5 1872.2,793.5 1872.8,793.5 1873.3,793.5 1873.9,793.5 1874.5,793.5 1875.1,793.5 1875.6,793.5 1876.2,793.5 1876.8,793.5 1877.3,793.5 1877.9,793.5 1878.5,793.5 1879.0,793.5 1879.6,793.5 1880.2,793.5 1880.7,793.5 1881.3,793.5 1881.9,793.5 1882.5,793.5 1883.0,793.5 1883.6,793.5 1884.2,793.5 1884.7,793.5 1885.3,793.5 1885.9,793.5 1886.4,793.5 1887.0,793.5 1887.6,793.5 1888.1,793.5 1888.7,793.5 1889.3,793.5 1889.9,793.5 1890.4,793.5 1891.0,793.5 1891.6,793.5 1892.1,793.5 1892.7,793.5 1893.3,793.5 1893.8,793.5 1894.4,793.5 1895.0,793.5 1895.5,793.5 1896.1,793.5 1896.7,793.5 1897.2,793.5 1897.8,793.5 1898.4,793.5 1899.0,793.5 1899.5,793.5 1900.1,793.5 1900.7,793.5 1901.2,793.5 1901.8,793.5 1902.4,793.5 1902.9,793.5 1903.5,793.5 1904.1,793.5 1904.6,793.5 1905.2,793.5 1905.8,793.5 1906.4,793.5 1906.9,793.5 1907.5,793.5 1908.1,793.5 1908.6,793.5 1909.2,793.5 1909.8,793.5 1910.3,793.5 1910.9,793.5 1911.5,793.5 1912.0,793.5 1912.6,793.5 1913.2,793.5 1913.8,793.5 1914.3,793.5 1914.9,793.5 1915.5,793.5 1916.0,793.5 1916.6,793.5 1917.2,793.5 1917.7,793.5 1918.3,793.5 1918.9,793.5 1919.4,793.5 1920.0,793.5 1920.6,793.5 1921.1,793.5 1921.7,793.5 1922.3,793.5 1922.9,793.5 1923.4,793.5 1924.0,793.5 1924.6,793.5 1925.1,793.5 1925.7,793.5 1926.3,793.5 1926.8,793.5 1927.4,793.5 1928.0,793.5 1928.5,793.5 1929.1,793.5 1929.7,793.5 1930.3,793.5 1930.8,793.5 1931.4,793.5 1932.0,793.5 1932.5,793.5 1933.1,793.5 1933.7,793.5 1934.2,793.5 1934.8,793.5 1935.4,793.5 1935.9,793.5 1936.5,793.5 1937.1,793.5 1937.7,793.5 1938.2,793.5 1938.8,793.5 1939.4,793.5 1939.9,793.5 1940.5,793.5 1941.1,793.5 1941.6,793.5 1942.2,793.5 1942.8,793.5 1943.3,793.5 1943.9,793.5 1944.5,793.5 1945.0,793.5 1945.6,793.5 1946.2,793.5 1946.8,793.5 1947.3,793.5 1947.9,793.5 1948.5,793.5 1949.0,793.5 1949.6,793.5 1950.2,793.5 1950.7,793.5 1951.3,793.5 1951.9,793.5 1952.4,793.5 1953.0,793.5 1953.6,793.5 1954.2,793.5 1954.7,793.5 1955.3,793.5 1955.9,793.5 1956.4,793.5 1957.0,793.5 1957.6,793.5 1958.1,793.5 1958.7,793.5 1959.3,793.5 1959.8,793.5 1960.4,793.5 1961.0,793.5 1961.6,793.5 1962.1,793.5 1962.7,793.5 1963.3,793.5 1963.8,793.5 1964.4,793.5 1965.0,793.5 1965.5,793.5 1966.1,793.5 1966.7,793.5 1967.2,793.5 1967.8,793.5 1968.4,793.5 1968.9,793.5 1969.5,793.5 1970.1,793.5 1970.7,793.5 1971.2,793.5 1971.8,793.5 1972.4,793.5 1972.9,793.5 1973.5,793.5 1974.1,793.5 1974.6,793.5 1975.2,793.5 1975.8,793.5 1976.3,793.5 1976.9,793.5 1977.5,793.5 1978.1,793.5 1978.6,793.5 1979.2,793.5 1979.8,793.5 1980.3,793.5 1980.9,793.5 1981.5,793.5 1982.0,793.5 1982.6,793.5 1983.2,793.5 1983.7,793.5 1984.3,793.5 1984.9,793.5 1985.5,793.5 1986.0,793.5 1986.6,793.5 1987.2,793.5 1987.7,793.5 1988.3,793.5 1988.9,793.5 1989.4,793.5 1990.0,793.5 1990.6,793.5 1991.1,793.5 1991.7,793.5 1992.3,793.5 1992.8,793.5 1993.4,793.5 1994.0,793.5 1994.6,793.5 1995.1,793.5 1995.7,793.5 1996.3,793.5 1996.8,793.5 1997.4,793.5 1998.0,793.5 1998.5,793.5 1999.1,793.5 1999.7,793.5 2000.2,793.5 2000.8,793.5 2001.4,793.5 2002.0,793.5 2002.5,793.5 2003.1,793.5 2003.7,793.5 2004.2,793.5 2004.8,793.5 2005.4,793.5 2005.9,793.5 2006.5,793.5 2007.1,793.5 2007.6,793.5 2008.2,793.5 2008.8,793.5 2009.4,793.5 2009.9,793.5 2010.5,793.5 2011.1,793.5 2011.6,793.5 2012.2,793.5 2012.8,793.5 2013.3,793.5 2013.9,793.5 2014.5,793.5 2015.0,793.5 2015.6,793.5 2016.2,793.5 2016.7,793.5 2017.3,793.5 2017.9,793.5 2018.5,793.5 2019.0,793.5 2019.6,793.5 2020.2,793.5 2020.7,793.5 2021.3,793.5 2021.9,793.5 2022.4,793.5 2023.0,793.5 2023.6,793.5 2024.1,793.5 2024.7,793.5 2025.3,793.5 2025.9,793.5 2026.4,793.5 2027.0,793.5 2027.6,793.5 2028.1,793.5 2028.7,793.5 2029.3,793.5 2029.8,793.5 2030.4,793.5 2031.0,793.5 2031.5,793.5 2032.1,793.5 2032.7,793.5 2033.3,793.5 2033.8,793.5 2034.4,793.5 2035.0,793.5 2035.5,793.5 2036.1,793.5 2036.7,793.5 2037.2,793.5 2037.8,793.5 2038.4,793.5 2038.9,793.5 2039.5,793.5 2040.1,793.5 2040.6,793.5 2041.2,793.5 2041.8,793.5 2042.4,793.5 2042.9,793.5 2043.5,793.5 2044.1,793.5 2044.6,793.5 2045.2,793.5 2045.8,793.5 2046.3,793.5 2046.9,793.5 2047.5,793.5 2048.0,793.5 2048.6,793.5 2049.2,793.5 2049.8,793.5 2050.3,793.5 2050.9,793.5 2051.5,793.5 2052.0,793.5 2052.6,793.5 2053.2,793.5 2053.7,793.5 2054.3,793.5 2054.9,793.5 2055.4,793.5 2056.0,793.5 2056.6,793.5 2057.2,793.5 2057.7,793.5 2058.3,793.5 2058.9,793.5 2059.4,793.5 2060.0,793.5 2060.6,793.5 2061.1,793.5 2061.7,793.5 2062.3,793.5 2062.8,793.5 2063.4,793.5 2064.0,793.5 2064.5,793.5 2065.1,793.5 2065.7,793.5 2066.3,793.5 2066.8,793.5 2067.4,793.5 2068.0,793.5 2068.5,793.5 2069.1,793.5 2069.7,793.5 2070.2,793.5 2070.8,793.5 2071.4,793.5 2071.9,793.5 2072.5,793.5 2073.1,793.5 2073.7,793.5 2074.2,793.5 2074.8,793.5 2075.4,793.5 2075.9,793.5 2076.5,793.5 2077.1,793.5 2077.6,793.5 2078.2,793.5 2078.8,793.5 2079.3,793.5 2079.9,793.5 2080.5,793.5 2081.1,793.5 2081.6,793.5 2082.2,793.5 2082.8,793.5 2083.3,793.5 2083.9,793.5 2084.5,793.5 2085.0,793.5 2085.6,793.5 2086.2,793.5 2086.7,793.5 2087.3,793.5 2087.9,793.5 2088.4,793.5 2089.0,793.5 2089.6,793.5 2090.2,793.5 2090.7,793.5 2091.3,793.5 2091.9,793.5 2092.4,793.5 2093.0,793.5 2093.6,793.5 2094.1,793.5 2094.7,793.5 2095.3,793.5 2095.8,793.5 2096.4,793.5 2097.0,793.5 2097.6,793.5 2098.1,793.5 2098.7,793.5 2099.3,793.5 2099.8,793.5 2100.4,793.5 2101.0,793.5 2101.5,793.5 2102.1,793.5 2102.7,793.5 2103.2,793.5 2103.8,793.5 2104.4,793.5 2105.0,793.5 2105.5,793.5 2106.1,793.5 2106.7,793.5 2107.2,793.5 2107.8,793.5 2108.4,793.5 2108.9,793.5 2109.5,793.5 2110.1,793.5 2110.6,793.5 2111.2,793.5 2111.8,793.5 2112.3,793.5 2112.9,793.5 2113.5,793.5 2114.1,793.5 2114.6,793.5 2115.2,793.5 2115.8,793.5 2116.3,793.5 2116.9,793.5 2117.5,793.5 2118.0,793.5 2118.6,793.5 2119.2,793.5 2119.7,793.5 2120.3,793.5 2120.9,793.5 2121.5,793.5 2122.0,793.5 2122.6,793.5 2123.2,793.5 2123.7,793.5 2124.3,793.5 2124.9,793.5 2125.4,793.5 2126.0,793.5 2126.6,793.5 2127.1,793.5 2127.7,793.5 2128.3,793.5 2128.9,793.5 2129.4,793.5 2130.0,793.5 2130.6,793.5 2131.1,793.5 2131.7,793.5 2132.3,793.5 2132.8,793.5 2133.4,793.5 2134.0,793.5 2134.5,793.5 2135.1,793.5 2135.7,793.5 2136.2,793.5 2136.8,793.5 2137.4,793.5 2138.0,793.5 2138.5,793.5 2139.1,793.5 2139.7,793.5 2140.2,793.5 2140.8,793.5 2141.4,793.5 2141.9,793.5 2142.5,793.5 2143.1,793.5 2143.6,793.5 2144.2,793.5 2144.8,793.5 2145.4,793.5 2145.9,793.5 2146.5,793.5 2147.1,793.5 2147.6,793.5 2148.2,793.5 2148.8,793.5 2149.3,793.5 2149.9,793.5 2150.5,793.5 2151.0,793.5 2151.6,793.5 2152.2,793.5 2152.8,793.5 2153.3,793.5 2153.9,793.5 2154.5,793.5 2155.0,793.5 2155.6,793.5 2156.2,793.5 2156.7,793.5 2157.3,793.5 2157.9,793.5 2158.4,793.5 2159.0,793.5 2159.6,793.5 2160.1,793.5 2160.7,793.5 2161.3,793.5 2161.9,793.5 2162.4,793.5 2163.0,793.5 2163.6,793.5 2164.1,793.5 2164.7,793.5 2165.3,793.5 2165.8,793.5 2166.4,793.5 2167.0,793.5 2167.5,793.5 2168.1,793.5 2168.7,793.5 2169.3,793.5 2169.8,793.5 2170.4,793.5 2171.0,793.5 2171.5,793.5 2172.1,793.5 2172.7,793.5 2173.2,793.5 2173.8,793.5 2174.4,793.5 2174.9,793.5 2175.5,793.5 2176.1,793.5 2176.7,793.5 2177.2,793.5 2177.8,793.5 2178.4,793.5 2178.9,793.5 2179.5,793.5 2180.1,793.5 2180.6,793.5 2181.2,793.5 2181.8,793.5 2182.3,793.5 2182.9,793.5 2183.5,793.5 2184.0,793.5 2184.6,793.5 2185.2,793.5 2185.8,793.5 2186.3,793.5 2186.9,793.5 2187.5,793.5 2188.0,793.5 2188.6,793.5 2189.2,793.5 2189.7,793.5 2190.3,793.5 2190.9,793.5 2191.4,793.5 2192.0,793.5 2192.6,793.5 2193.2,793.5 2193.7,793.5 2194.3,793.5 2194.9,793.5 2195.4,793.5 2196.0,793.5 2196.6,793.5 2197.1,793.5 2197.7,793.5 2198.3,793.5 2198.8,793.5 2199.4,793.5 2200.0,793.5 2200.6,793.5 2201.1,793.5 2201.7,793.5 2202.3,793.5 2202.8,793.5 2203.4,793.5 2204.0,793.5 2204.5,793.5 2205.1,793.5 2205.7,793.5 2206.2,793.5 2206.8,793.5 2207.4,793.5 2207.9,793.5 2208.5,793.5 2209.1,793.5 2209.7,793.5 2210.2,793.5 2210.8,793.5 2211.4,793.5 2211.9,793.5 2212.5,793.5" fill="none" stroke="#00ff00" stroke-width="7" stroke-linejoin="round" shape-rendering="crispEdges"/></g>
<g stroke="#262626" stroke-width="1" shape-rendering="crispEdges"><line x1="235.5" y1="793.5" x2="235.5" y2="784.5"/><line x1="235.5" y1="135.5" x2="235.5" y2="144.5"/><line x1="448.5" y1="793.5" x2="448.5" y2="784.5"/><line x1="448.5" y1="135.5" x2="448.5" y2="144.5"/><line x1="661.5" y1="793.5" x2="661.5" y2="784.5"/><line x1="661.5" y1="135.5" x2="661.5" y2="144.5"/><line x1="874.5" y1="793.5" x2="874.5" y2="784.5"/><line x1="874.5" y1="135.5" x2="874.5" y2="144.5"/><line x1="1087.5" y1="793.5" x2="1087.5" y2="784.5"/><line x1="1087.5" y1="135.5" x2="1087.5" y2="144.5"/><line x1="235.5" y1="793.5" x2="244.5" y2="793.5"/><line x1="1087.5" y1="793.5" x2="1078.5" y2="793.5"/><line x1="235.5" y1="574.2" x2="244.5" y2="574.2"/><line x1="1087.5" y1="574.2" x2="1078.5" y2="574.2"/><line x1="235.5" y1="354.8" x2="244.5" y2="354.8"/><line x1="1087.5" y1="354.8" x2="1078.5" y2="354.8"/><line x1="235.5" y1="135.5" x2="244.5" y2="135.5"/><line x1="1087.5" y1="135.5" x2="1078.5" y2="135.5"/><rect x="235.5" y="135.5" width="852.0" height="658.0" fill="none"/></g><g stroke="#262626" stroke-width="1" shape-rendering="crispEdges"><line x1="235.5" y1="1751.5" x2="235.5" y2="1742.5"/><line x1="235.5" y1="1095.5" x2="235.5" y2="1104.5"/><line x1="448.5" y1="1751.5" x2="448.5" y2="1742.5"/><line x1="448.5" y1="1095.5" x2="448.5" y2="1104.5"/><line x1="661.5" y1="1751.5" x2="661.5" y2="1742.5"/><line x1="661.5" y1="1095.5" x2="661.5" y2="1104.5"/><line x1="874.5" y1="1751.5" x2="874.5" y2="1742.5"/><line x1="874.5" y1="1095.5" x2="874.5" y2="1104.5"/><line x1="1087.5" y1="1751.5" x2="1087.5" y2="1742.5"/><line x1="1087.5" y1="1095.5" x2="1087.5" y2="1104.5"/><line x1="235.5" y1="1751.5" x2="244.5" y2="1751.5"/><line x1="1087.5" y1="1751.5" x2="1078.5" y2="1751.5"/><line x1="235.5" y1="1532.8" x2="244.5" y2="1532.8"/><line x1="1087.5" y1="1532.8" x2="1078.5" y2="1532.8"/><line x1="235.5" y1="1314.2" x2="244.5" y2="1314.2"/><line x1="1087.5" y1="1314.2" x2="1078.5" y2="1314.2"/><line x1="235.5" y1="1095.5" x2="244.5" y2="1095.5"/><line x1="1087.5" y1="1095.5" x2="1078.5" y2="1095.5"/><rect x="235.5" y="1095.5" width="852.0" height="656.0" fill="none"/></g><g stroke="#262626" stroke-width="1" shape-rendering="crispEdges"><line x1="1359.5" y1="1751.5" x2="1359.5" y2="1742.5"/><line x1="1359.5" y1="1095.5" x2="1359.5" y2="1104.5"/><line x1="1572.8" y1="1751.5" x2="1572.8" y2="1742.5"/><line x1="1572.8" y1="1095.5" x2="1572.8" y2="1104.5"/><line x1="1786.0" y1="1751.5" x2="1786.0" y2="1742.5"/><line x1="1786.0" y1="1095.5" x2="1786.0" y2="1104.5"/><line x1="1999.2" y1="1751.5" x2="1999.2" y2="1742.5"/><line x1="1999.2" y1="1095.5" x2="1999.2" y2="1104.5"/><line x1="2212.5" y1="1751.5" x2="2212.5" y2="1742.5"/><line x1="2212.5" y1="1095.5" x2="2212.5" y2="1104.5"/><line x1="1359.5" y1="1751.5" x2="1368.5" y2="1751.5"/><line x1="2212.5" y1="1751.5" x2="2203.5" y2="1751.5"/><line x1="1359.5" y1="1532.8" x2="1368.5" y2="1532.8"/><line x1="2212.5" y1="1532.8" x2="2203.5" y2="1532.8"/><line x1="1359.5" y1="1314.2" x2="1368.5" y2="1314.2"/><line x1="2212.5" y1="1314.2" x2="2203.5" y2="1314.2"/><line x1="1359.5" y1="1095.5" x2="1368.5" y2="1095.5"/><line x1="2212.5" y1="1095.5" x2="2203.5" y2="1095.5"/><rect x="1359.5" y="1095.5" width="853.0" height="656.0" fill="none"/></g>
<g><rect x="1382.5" y="158.5" width="342" height="192" fill="#fff" stroke="#262626" stroke-width="1" shape-rendering="crispEdges"/><line x1="1391" y1="193.0" x2="1476" y2="193.0" stroke="#0000ff" stroke-width="7" shape-rendering="crispEdges"/><line x1="1391" y1="254.5" x2="1476" y2="254.5" stroke="#ff0000" stroke-width="7" shape-rendering="crispEdges"/><line x1="1391" y1="316.0" x2="1476" y2="316.0" stroke="#00ff00" stroke-width="7" shape-rendering="crispEdges"/><text transform="translate(1482.23,205.79) scale(0.8237,1)" font-family="Liberation Serif" font-style="italic" font-weight="bold" font-size="52.22" fill="#000">δ</text><text transform="translate(1507.28,205.70) scale(0.7713,1)" font-family="Liberation Serif" font-style="normal" font-weight="bold" font-size="54.52" fill="#000">Φ</text><text transform="translate(1555.13,208.00) scale(1.5850,1)" font-family="Liberation Serif" font-style="normal" font-weight="bold" font-size="47.77" fill="#000">=</text><text transform="translate(1482.23,267.09) scale(0.8237,1)" font-family="Liberation Serif" font-style="italic" font-weight="bold" font-size="52.22" fill="#000">δ</text><text transform="translate(1507.28,267.00) scale(0.7713,1)" font-family="Liberation Serif" font-style="normal" font-weight="bold" font-size="54.52" fill="#000">Φ</text><text transform="translate(1555.13,269.30) scale(1.5850,1)" font-family="Liberation Serif" font-style="normal" font-weight="bold" font-size="47.77" fill="#000">=</text><text transform="translate(1482.23,328.39) scale(0.8237,1)" font-family="Liberation Serif" font-style="italic" font-weight="bold" font-size="52.22" fill="#000">δ</text><text transform="translate(1507.28,328.30) scale(0.7713,1)" font-family="Liberation Serif" font-style="normal" font-weight="bold" font-size="54.52" fill="#000">Φ</text><text transform="translate(1555.13,330.60) scale(1.5850,1)" font-family="Liberation Serif" font-style="normal" font-weight="bold" font-size="47.77" fill="#000">=</text><text transform="translate(1610.73,205.22) scale(1.0271,1)" font-family="Liberation Serif" font-style="italic" font-weight="bold" font-size="49.07" fill="#000">π</text><text transform="translate(1646.21,217.16) scale(0.6518,1)" font-family="Liberation Serif" font-style="italic" font-weight="bold" font-size="76.15" fill="#000">/</text><text transform="translate(1665.99,206.29) scale(0.9618,1)" font-family="Liberation Serif" font-style="normal" font-weight="bold" font-size="52.69" fill="#000">3</text><text transform="translate(1609.78,267.00) scale(1.0127,1)" font-family="Liberation Serif" font-style="normal" font-weight="bold" font-size="52.11" fill="#000">2</text><text transform="translate(1636.64,267.41) scale(0.9923,1)" font-family="Liberation Serif" font-style="italic" font-weight="bold" font-size="49.71" fill="#000">π</text><text transform="translate(1671.55,278.75) scale(0.6342,1)" font-family="Liberation Serif" font-style="italic" font-weight="bold" font-size="76.74" fill="#000">/</text><text transform="translate(1691.32,267.68) scale(0.9405,1)" font-family="Liberation Serif" font-style="normal" font-weight="bold" font-size="53.13" fill="#000">3</text><text transform="translate(1610.73,327.82) scale(1.0271,1)" font-family="Liberation Serif" font-style="italic" font-weight="bold" font-size="49.07" fill="#000">π</text></g>
<g><text transform="translate(620.07,86.24) scale(1.2298,1)" font-family="Liberation Serif" font-style="normal" font-weight="normal" font-size="88.52" fill="#000">a</text><text transform="translate(668.11,87.28) scale(0.8510,1)" font-family="Liberation Serif" font-style="normal" font-weight="normal" font-size="101.57" fill="#000">)</text><text transform="translate(1744.90,85.82) scale(1.1000,1)" font-family="Liberation Serif" font-style="normal" font-weight="normal" font-size="90.53" fill="#000">b</text><text transform="translate(1795.26,87.28) scale(0.8356,1)" font-family="Liberation Serif" font-style="normal" font-weight="normal" font-size="101.57" fill="#000">)</text><text transform="translate(622.23,1046.83) scale(1.0818,1)" font-family="Liberation Serif" font-style="normal" font-weight="normal" font-size="88.99" fill="#000">c</text><text transform="translate(664.99,1047.51) scale(0.8991,1)" font-family="Liberation Serif" font-style="normal" font-weight="normal" font-size="100.47" fill="#000">)</text><text transform="translate(1742.22,1046.80) scale(1.1076,1)" font-family="Liberation Serif" font-style="normal" font-weight="normal" font-size="91.95" fill="#000">d</text><text transform="translate(1795.26,1047.51) scale(0.8448,1)" font-family="Liberation Serif" font-style="normal" font-weight="normal" font-size="100.47" fill="#000">)</text><text transform="translate(562.88,935.94) scale(0.8915,1)" font-family="Liberation Serif" font-style="italic" font-weight="normal" font-size="77.49" fill="#262626">δ</text><text transform="translate(609.47,935.90) scale(0.6820,1)" font-family="Liberation Serif" font-style="normal" font-weight="normal" font-size="78.96" fill="#262626">Φ</text><text transform="translate(679.77,941.89) scale(0.5261,1)" font-family="Liberation Serif" font-style="normal" font-weight="normal" font-size="90.50" fill="#262626">[</text><text transform="translate(696.68,935.21) scale(1.1155,1)" font-family="Liberation Serif" font-style="italic" font-weight="normal" font-size="70.19" fill="#262626">π</text><text transform="translate(739.38,941.89) scale(0.5261,1)" font-family="Liberation Serif" font-style="normal" font-weight="normal" font-size="90.50" fill="#262626">]</text><text transform="translate(562.88,1895.94) scale(0.8915,1)" font-family="Liberation Serif" font-style="italic" font-weight="normal" font-size="77.49" fill="#262626">δ</text><text transform="translate(609.47,1895.90) scale(0.6820,1)" font-family="Liberation Serif" font-style="normal" font-weight="normal" font-size="78.96" fill="#262626">Φ</text><text transform="translate(679.77,1901.89) scale(0.5261,1)" font-family="Liberation Serif" font-style="normal" font-weight="normal" font-size="90.50" fill="#262626">[</text><text transform="translate(696.68,1895.21) scale(1.1155,1)" font-family="Liberation Serif" font-style="italic" font-weight="normal" font-size="70.19" fill="#262626">π</text><text transform="translate(739.38,1901.89) scale(0.5261,1)" font-family="Liberation Serif" font-style="normal" font-weight="normal" font-size="90.50" fill="#262626">]</text><text transform="translate(1686.88,1895.94) scale(0.8915,1)" font-family="Liberation Serif" font-style="italic" font-weight="normal" font-size="77.49" fill="#262626">δ</text><text transform="translate(1733.47,1895.90) scale(0.6820,1)" font-family="Liberation Serif" font-style="normal" font-weight="normal" font-size="78.96" fill="#262626">Φ</text><text transform="translate(1803.77,1901.89) scale(0.5261,1)" font-family="Liberation Serif" font-style="normal" font-weight="normal" font-size="90.50" fill="#262626">[</text><text transform="translate(1820.68,1895.21) scale(1.1155,1)" font-family="Liberation Serif" font-style="italic" font-weight="normal" font-size="70.19" fill="#262626">π</text><text transform="translate(1863.38,1901.89) scale(0.5261,1)" font-family="Liberation Serif" font-style="normal" font-weight="normal" font-size="90.50" fill="#262626">]</text><text transform="translate(1677.33,934.15) scale(1.1654,1)" font-family="Liberation Serif" font-style="italic" font-weight="normal" font-size="66.12" fill="#262626">e</text><text transform="translate(1705.21,933.63) scale(1.1379,1)" font-family="Liberation Serif" font-style="italic" font-weight="normal" font-size="77.17" fill="#262626">V</text><text transform="translate(1798.70,940.28) scale(0.5583,1)" font-family="Liberation Serif" font-style="normal" font-weight="normal" font-size="86.87" fill="#262626">[</text><text transform="translate(1812.93,934.80) scale(1.2648,1)" font-family="Liberation Serif" font-style="normal" font-weight="normal" font-size="78.31" fill="#262626">Δ</text><text transform="translate(1874.75,940.28) scale(0.5583,1)" font-family="Liberation Serif" font-style="normal" font-weight="normal" font-size="86.87" fill="#262626">]</text><text transform="translate(70.90,552.56) rotate(-90) scale(1.1392,1)" font-family="Liberation Serif" font-style="italic" font-weight="normal" font-size="77.58" fill="#262626">E</text><text transform="translate(77.88,469.40) rotate(-90) scale(0.5353,1)" font-family="Liberation Serif" font-style="normal" font-weight="normal" font-size="90.62" fill="#262626">[</text><text transform="translate(70.90,454.33) rotate(-90) scale(1.2048,1)" font-family="Liberation Serif" font-style="normal" font-weight="normal" font-size="81.19" fill="#262626">Δ</text><text transform="translate(77.88,393.76) rotate(-90) scale(0.5997,1)" font-family="Liberation Serif" font-style="normal" font-weight="normal" font-size="90.62" fill="#262626">]</text><text transform="translate(70.90,1512.56) rotate(-90) scale(1.1392,1)" font-family="Liberation Serif" font-style="italic" font-weight="normal" font-size="77.58" fill="#262626">E</text><text transform="translate(77.88,1429.40) rotate(-90) scale(0.5353,1)" font-family="Liberation Serif" font-style="normal" font-weight="normal" font-size="90.62" fill="#262626">[</text><text transform="translate(70.90,1414.33) rotate(-90) scale(1.2048,1)" font-family="Liberation Serif" font-style="normal" font-weight="normal" font-size="81.19" fill="#262626">Δ</text><text transform="translate(77.88,1353.76) rotate(-90) scale(0.5997,1)" font-family="Liberation Serif" font-style="normal" font-weight="normal" font-size="90.62" fill="#262626">]</text><text transform="translate(1194.90,1512.56) rotate(-90) scale(1.1392,1)" font-family="Liberation Serif" font-style="italic" font-weight="normal" font-size="77.58" fill="#262626">E</text><text transform="translate(1201.88,1429.40) rotate(-90) scale(0.5353,1)" font-family="Liberation Serif" font-style="normal" font-weight="normal" font-size="90.62" fill="#262626">[</text><text transform="translate(1194.90,1414.33) rotate(-90) scale(1.2048,1)" font-family="Liberation Serif" font-style="normal" font-weight="normal" font-size="81.19" fill="#262626">Δ</text><text transform="translate(1201.88,1353.76) rotate(-90) scale(0.5997,1)" font-family="Liberation Serif" font-style="normal" font-weight="normal" font-size="90.62" fill="#262626">]</text><text transform="translate(1182.29,619.76) rotate(-90) scale(1.3546,1)" font-family="Liberation Serif" font-style="normal" font-weight="normal" font-size="52.30" fill="#262626">d</text><text transform="translate(1181.90,581.55) rotate(-90) scale(1.1861,1)" font-family="Liberation Serif" font-style="italic" font-weight="normal" font-size="53.15" fill="#262626">I</text><text transform="translate(1189.90,559.59) rotate(-90) scale(1.0804,1)" font-family="Liberation Serif" font-style="italic" font-weight="normal" font-size="39.55" fill="#262626">N</text><rect x="1192.1" y="524" width="3.9" height="88.9" fill="#262626"/><text transform="translate(1237.50,611.22) rotate(-90) scale(1.4111,1)" font-family="Liberation Serif" font-style="normal" font-weight="normal" font-size="51.31" fill="#262626">d</text><text transform="translate(1238.06,574.52) rotate(-90) scale(1.0121,1)" font-family="Liberation Serif" font-style="italic" font-weight="normal" font-size="55.23" fill="#262626">V</text><text transform="translate(1218.59,486.50) rotate(-90) scale(0.5253,1)" font-family="Liberation Serif" font-style="normal" font-weight="normal" font-size="89.77" fill="#262626">[</text><text transform="translate(1212.61,470.13) rotate(-90) scale(1.0688,1)" font-family="Liberation Serif" font-style="italic" font-weight="normal" font-size="70.90" fill="#262626">e</text><text transform="translate(1186.20,436.70) rotate(-90) scale(0.9938,1)" font-family="Liberation Serif" font-style="normal" font-weight="normal" font-size="52.71" fill="#262626">2</text><text transform="translate(1229.52,400.51) rotate(-90) scale(0.6642,1)" font-family="Liberation Serif" font-style="italic" font-weight="normal" font-size="111.07" fill="#262626">/</text><text transform="translate(1213.30,369.80) rotate(-90) scale(1.1178,1)" font-family="Liberation Serif" font-style="italic" font-weight="normal" font-size="76.67" fill="#262626">ħ</text><text transform="translate(1218.59,328.47) rotate(-90) scale(0.5453,1)" font-family="Liberation Serif" font-style="normal" font-weight="normal" font-size="89.77" fill="#262626">]</text><text x="218.51" y="857.90" font-family="Liberation Sans" font-size="51.0" fill="#262626">0</text><text x="406.63" y="857.90" font-family="Liberation Sans" font-size="51.0" fill="#262626">0.5</text><text x="644.51" y="857.90" font-family="Liberation Sans" font-size="51.0" fill="#262626">1</text><text x="832.63" y="857.90" font-family="Liberation Sans" font-size="51.0" fill="#262626">1.5</text><text x="1070.51" y="857.90" font-family="Liberation Sans" font-size="51.0" fill="#262626">2</text><text x="204.26" y="811.70" text-anchor="end" font-family="Liberation Sans" font-size="51.0" fill="#262626">0.85</text><text x="208.30" y="592.37" text-anchor="end" font-family="Liberation Sans" font-size="51.0" fill="#262626">0.9</text><text x="204.26" y="373.03" text-anchor="end" font-family="Liberation Sans" font-size="51.0" fill="#262626">0.95</text><text x="214.36" y="153.70" text-anchor="end" font-family="Liberation Sans" font-size="51.0" fill="#262626">1</text><text x="218.51" y="1815.90" font-family="Liberation Sans" font-size="51.0" fill="#262626">0</text><text x="406.63" y="1815.90" font-family="Liberation Sans" font-size="51.0" fill="#262626">0.5</text><text x="644.51" y="1815.90" font-family="Liberation Sans" font-size="51.0" fill="#262626">1</text><text x="832.63" y="1815.90" font-family="Liberation Sans" font-size="51.0" fill="#262626">1.5</text><text x="1070.51" y="1815.90" font-family="Liberation Sans" font-size="51.0" fill="#262626">2</text><text x="204.26" y="1769.70" text-anchor="end" font-family="Liberation Sans" font-size="51.0" fill="#262626">0.85</text><text x="208.30" y="1551.03" text-anchor="end" font-family="Liberation Sans" font-size="51.0" fill="#262626">0.9</text><text x="204.26" y="1332.37" text-anchor="end" font-family="Liberation Sans" font-size="51.0" fill="#262626">0.95</text><text x="214.36" y="1113.70" text-anchor="end" font-family="Liberation Sans" font-size="51.0" fill="#262626">1</text><text x="1342.51" y="1815.90" font-family="Liberation Sans" font-size="51.0" fill="#262626">0</text><text x="1530.88" y="1815.90" font-family="Liberation Sans" font-size="51.0" fill="#262626">0.5</text><text x="1769.01" y="1815.90" font-family="Liberation Sans" font-size="51.0" fill="#262626">1</text><text x="1957.38" y="1815.90" font-family="Liberation Sans" font-size="51.0" fill="#262626">1.5</text><text x="2195.51" y="1815.90" font-family="Liberation Sans" font-size="51.0" fill="#262626">2</text><text x="1328.26" y="1769.70" text-anchor="end" font-family="Liberation Sans" font-size="51.0" fill="#262626">0.85</text><text x="1332.30" y="1551.03" text-anchor="end" font-family="Liberation Sans" font-size="51.0" fill="#262626">0.9</text><text x="1328.26" y="1332.37" text-anchor="end" font-family="Liberation Sans" font-size="51.0" fill="#262626">0.95</text><text x="1338.36" y="1113.70" text-anchor="end" font-family="Liberation Sans" font-size="51.0" fill="#262626">1</text><text x="1301.03" y="857.90" font-family="Liberation Sans" font-size="51.0" fill="#262626">0.85</text><text x="1601.96" y="857.90" font-family="Liberation Sans" font-size="51.0" fill="#262626">0.9</text><text x="1869.70" y="857.90" font-family="Liberation Sans" font-size="51.0" fill="#262626">0.95</text><text x="2195.51" y="857.90" font-family="Liberation Sans" font-size="51.0" fill="#262626">1</text><text x="1338.36" y="811.70" text-anchor="end" font-family="Liberation Sans" font-size="51.0" fill="#262626">0</text><text x="1334.32" y="680.10" text-anchor="end" font-family="Liberation Sans" font-size="51.0" fill="#262626">20</text><text x="1334.32" y="548.50" text-anchor="end" font-family="Liberation Sans" font-size="51.0" fill="#262626">40</text><text x="1334.32" y="416.90" text-anchor="end" font-family="Liberation Sans" font-size="51.0" fill="#262626">60</text><text x="1334.32" y="285.30" text-anchor="end" font-family="Liberation Sans" font-size="51.0" fill="#262626">80</text><text x="1330.27" y="153.70" text-anchor="end" font-family="Liberation Sans" font-size="51.0" fill="#262626">100</text></g>
</svg></div>
<script>
(function(){
var E0C=[0.9665924242366627, 0.03242534361694263, 0.00026875537440452954, 0.00017991437107671546, 0.00012357268178364147], AX={"a": [235.5, 1087.5, 135.5, 793.5], "b": [1359.5, 2212.5, 135.5, 793.5], "c": [235.5, 1087.5, 1095.5, 1751.5], "d": [1359.5, 2212.5, 1095.5, 1751.5]};
function E0(p){var s=0;for(var k=0;k<E0C.length;k++)s+=E0C[k]*Math.cos(k*Math.PI*p);return s;}
var CM=[[0,0,0]];for(var i=1;i<=63;i++){CM.push([Math.round(255*Math.min(i/24,1)),Math.round(255*Math.max(0,Math.min((i-24)/24,1))),Math.round(255*Math.max(0,Math.min((i-48)/16,1)))]);}
var GP={a:[7.6464, 3.6429, 9.5914, 7.3412, 5.4838, 1.1101, 0.0306, 1.2915, -0.2325],c:[8.4591, 3.9237, 23.3424, 4.6756, 0.8832, 8.7417, -6.0508, 0.8012, 0.3293],d:[8.6135, 0.8998, 7.9202, 1.7612, 11.3002, 0.9072, -0.0377, 1.0726, 0.4317]};
var PT={a:{X:[0,0.1,0.2,1/3,0.5,2/3,0.77,0.9,1.0],P:[0.45,0.65,0.75,0.85,0.9,1.0,1.0,1.03,1.05]},
        c:{X:[0,0.1,0.2,1/3,0.5,2/3,0.8,0.9,1.0],P:[0.95,0.74,0.64,0.5,0.36,0.181,0.047,0.014,0.0]},
        d:{X:[0,0.1,0.2,1/3,0.5,2/3,0.8,0.9,1.0],P:[0.42,0.55,0.66,0.72,0.82,1.0,1.05,1.12,1.2]}};
function interp(X,tab,p){if(p>1)p=2-p;if(p<0)p=0;
 var n=X.length,i=0;while(i<n-2&&p>X[i+1])i++;
 function V(k){if(k<0)return tab[-k];if(k>n-1)return tab[2*(n-1)-k];return tab[k];}
 function XX(k){if(k<0)return -X[-k];if(k>n-1)return 2-X[2*(n-1)-k];return X[k];}
 function sl(k){var d0=(V(k)-V(k-1))/(XX(k)-XX(k-1)),d1=(V(k+1)-V(k))/(XX(k+1)-XX(k));if(d0*d1<=0)return 0;return 2/(1/d0+1/d1);}
 var x0=XX(i),x1=XX(i+1),y0=V(i),y1=V(i+1),m0=sl(i),m1=sl(i+1);
 var h=x1-x0,t=(p-x0)/h,t2=t*t,t3=t2*t;
 return (2*t3-3*t2+1)*y0+(t3-2*t2+t)*h*m0+(-2*t3+3*t2)*y1+(t3-t2)*h*m1;}
var STEP=0.5, HALF=720, NG=2*HALF/STEP+1;
function buildProfile(g,ph){
 var s=(1-Math.cos(Math.PI*ph))/2, t=Math.sin(Math.PI*ph);
 var Gu=Math.max(0.3,Math.abs(g[1]+g[2]*s)), Gd=Math.max(0.3,Math.abs(g[3]+g[4]*s));
 var au=Math.max(0.3,Math.abs(g[5]+g[6]*s)), ad=Math.max(0.3,Math.abs(g[7]+g[8]*s));
 var sg=Math.abs(g[0]*t);
 var L=new Float64Array(NG);
 for(var i=0;i<NG;i++){var d=-HALF+i*STEP;var G=d>0?Gu:Gd,a=d>0?au:ad;var q=d/G;L[i]=Math.pow(1+q*q,-a);}
 if(sg>0.3){
  var R=Math.ceil(4*sg/STEP);var ker=new Float64Array(2*R+1);var ks=0;
  for(var k=-R;k<=R;k++){var v=Math.exp(-0.5*Math.pow(k*STEP/sg,2));ker[k+R]=v;ks+=v;}
  for(var k=0;k<ker.length;k++)ker[k]/=ks;
  var M=new Float64Array(NG);
  for(var i=0;i<NG;i++){var acc=0;for(var k=-R;k<=R;k++){var j=i+k;if(j<0)j=0;if(j>=NG)j=NG-1;acc+=ker[k+R]*L[j];}M[i]=acc;}
  L=M;
 }
 var im=0,mx=0;for(var i=0;i<NG;i++){if(L[i]>mx){mx=L[i];im=i;}}
 for(var i=0;i<NG;i++)L[i]/=mx;
 return {L:L,shift:(im*STEP-HALF)};
}
var PXE=4380;
function draw(key){
 var cv=document.getElementById('cv_'+key); if(!cv)return;
 var ax=AX[key], L=ax[0],R=ax[1],T=ax[2],B=ax[3];
 var w=cv.width,h=cv.height,x0=Math.floor(L-0.5),y0=Math.floor(T-0.5);
 var ctx=cv.getContext('2d'); var img=ctx.createImageData(w,h); var dat=img.data;
 var N=120, g=GP[key], pt=PT[key];
 var cols=[], cache={};
 for(var k=0;k<=N;k++){var p=2*k/N; var kk=k>N/2?N-k:k;
  if(!cache[kk]){var pp=2*kk/N;var pr=buildProfile(g,pp);cache[kk]={e0:E0(pp),P:Math.max(0,interp(pt.X,pt.P,pp)),L:pr.L,sh:pr.shift};}
  cols.push(cache[kk]);}
 function f(c,E){var d=(E-c.e0)*PXE+c.sh;var u=(d+HALF)/STEP;if(u<0||u>=NG-1)return 0;var i=Math.floor(u),t=u-i;return c.P*(c.L[i]*(1-t)+c.L[i+1]*t);}
 for(var j=0;j<h;j++){
  var yc=y0+j+0.5; var E=1-(yc-T)/(B-T)*0.15;
  for(var i=0;i<w;i++){
   var xc=x0+i+0.5; var u=(xc-L)/(R-L)*N; if(u<0)u=0; if(u>N)u=N;
   var k=Math.floor(u); if(k>=N)k=N-1; var t=u-k;
   var v=(1-t)*f(cols[k],E)+t*f(cols[k+1],E);
   var idx=Math.floor(v*64); if(idx<0)idx=0; if(idx>63)idx=63;
   var c=CM[idx]; var o=(j*w+i)*4; dat[o]=c[0];dat[o+1]=c[1];dat[o+2]=c[2];dat[o+3]=255;
  }
 }
 ctx.putImageData(img,0,0);
}
draw('a');draw('c');draw('d');
})();

</script>
</body></html>
